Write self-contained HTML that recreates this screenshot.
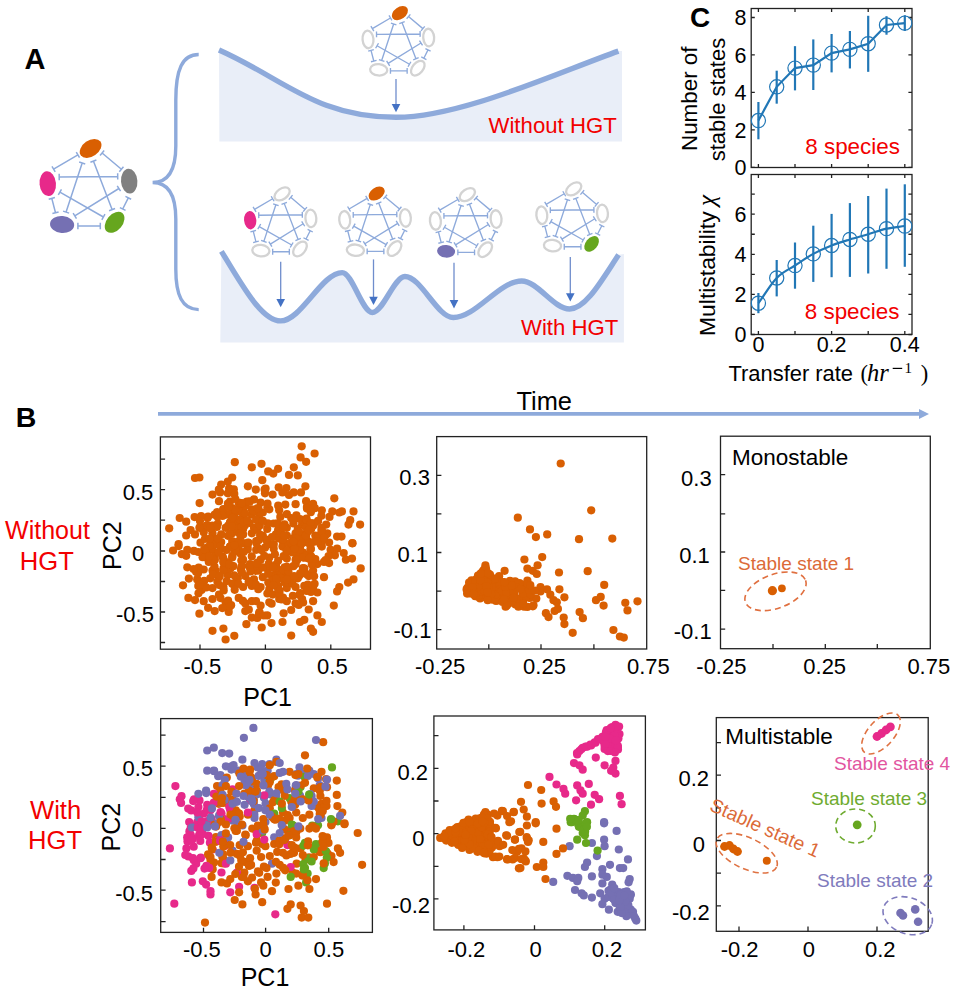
<!DOCTYPE html>
<html><head><meta charset="utf-8"><style>
html,body{margin:0;padding:0;background:#fff;width:965px;height:1002px;overflow:hidden}
svg{display:block;font-family:"Liberation Sans", sans-serif}
</style></head><body>
<svg width="965" height="1002" viewBox="0 0 965 1002">
<text x="24.5" y="69.0" font-size="29" text-anchor="start" fill="#000" font-weight="bold" >A</text>
<text x="15.8" y="427.0" font-size="28.5" text-anchor="start" fill="#000" font-weight="bold" >B</text>
<text x="690.0" y="27.0" font-size="28" text-anchor="start" fill="#000" font-weight="bold" >C</text>
<g><path d="M77.90,154.90L53.60,169.20M76.28,152.14L79.52,157.66M51.98,166.44L55.22,171.96" stroke="#8eaadb" stroke-width="1.5" fill="none"/><path d="M102.10,153.00L121.40,169.20M100.04,155.45L104.16,150.55M119.34,171.65L123.46,166.75" stroke="#8eaadb" stroke-width="1.5" fill="none"/><path d="M128.30,197.80L122.70,209.00M125.44,196.37L131.16,199.23M119.84,207.57L125.56,210.43" stroke="#8eaadb" stroke-width="1.5" fill="none"/><path d="M100.30,226.00L77.90,226.00M100.30,222.80L100.30,229.20M77.90,222.80L77.90,229.20" stroke="#8eaadb" stroke-width="1.5" fill="none"/><path d="M55.50,212.70L51.80,198.40M58.60,211.90L52.40,213.50M54.90,197.60L48.70,199.20" stroke="#8eaadb" stroke-width="1.5" fill="none"/><path d="M59.20,177.00L117.70,176.40M59.23,180.20L59.17,173.80M117.73,179.60L117.67,173.20" stroke="#8eaadb" stroke-width="1.5" fill="none"/><path d="M82.20,163.00L66.10,212.10M79.16,162.00L85.24,164.00M63.06,211.10L69.14,213.10" stroke="#8eaadb" stroke-width="1.5" fill="none"/><path d="M93.40,161.10L112.10,209.60M90.41,162.25L96.39,159.95M109.11,210.75L115.09,208.45" stroke="#8eaadb" stroke-width="1.5" fill="none"/><path d="M118.90,188.50L74.80,215.80M117.22,185.78L120.58,191.22M73.12,213.08L76.48,218.52" stroke="#8eaadb" stroke-width="1.5" fill="none"/><path d="M59.90,192.20L103.40,217.00M58.32,194.98L61.48,189.42M101.82,219.78L104.98,214.22" stroke="#8eaadb" stroke-width="1.5" fill="none"/><ellipse cx="0" cy="0" rx="12.00" ry="8.00" fill="#d95f02" transform="translate(90.60,148.40) rotate(-35)"/><ellipse cx="0" cy="0" rx="8.20" ry="12.40" fill="#e7298a" transform="translate(47.76,183.70) rotate(-5)"/><ellipse cx="0" cy="0" rx="8.20" ry="12.40" fill="#808080" transform="translate(129.20,181.20) rotate(-4)"/><ellipse cx="0" cy="0" rx="12.10" ry="8.50" fill="#7570b3" transform="translate(62.10,224.50) rotate(5)"/><ellipse cx="0" cy="0" rx="12.00" ry="8.00" fill="#66a61e" transform="translate(114.60,222.30) rotate(-50)"/></g>
<path d="M198.7,54.5 C182,54.5 175.8,70 175.8,100 L175.8,146 C175.8,170 168,182.5 152.6,182.5 C168,182.5 175.8,195 175.8,219 L175.8,269 C175.8,295 182,309.6 198.7,309.6" stroke="#8eaadb" stroke-width="3.4" fill="none"/>
<path d="M219,50 C284,78.8 315.6,117.3 396,117.3 C460.8,117.3 555.3,73.5 618.4,51.1L622,51 L622,141.5 L219.4,141.5 Z" fill="#e9eef8"/>
<path d="M219,50 C284,78.8 315.6,117.3 396,117.3 C460.8,117.3 555.3,73.5 618.4,51.1" stroke="#8eaadb" stroke-width="5.4" fill="none" stroke-linecap="butt"/>
<path d="M221.40,251.40C241.17,283.03 260.93,320.90 280.70,320.90C301.20,320.90 321.70,272.60 342.20,272.60C352.23,272.60 362.27,312.50 372.30,312.50C383.17,312.50 394.03,276.50 404.90,276.50C421.03,276.50 437.17,317.50 453.30,317.50C476.10,317.50 498.90,281.00 521.70,281.00C537.67,281.00 553.63,309.00 569.60,309.00C585.93,309.00 602.27,279.30 618.60,254.80L623.9,254 L623.9,342.6 L220.3,342.6 Z" fill="#e9eef8"/>
<path d="M221.40,251.40C241.17,283.03 260.93,320.90 280.70,320.90C301.20,320.90 321.70,272.60 342.20,272.60C352.23,272.60 362.27,312.50 372.30,312.50C383.17,312.50 394.03,276.50 404.90,276.50C421.03,276.50 437.17,317.50 453.30,317.50C476.10,317.50 498.90,281.00 521.70,281.00C537.67,281.00 553.63,309.00 569.60,309.00C585.93,309.00 602.27,279.30 618.60,254.80" stroke="#8eaadb" stroke-width="5.4" fill="none"/>
<path d="M396,79L396,105.0" stroke="#6f8dcc" stroke-width="1.3"/>
<path d="M391.7,104.0L400.3,104.0L396,112.3Z" fill="#4472c4"/>
<path d="M280.7,261.7L280.7,300.0" stroke="#6f8dcc" stroke-width="1.3"/>
<path d="M276.4,299.0L285.0,299.0L280.7,307.3Z" fill="#4472c4"/>
<path d="M373.5,259.4L373.5,297.7" stroke="#6f8dcc" stroke-width="1.3"/>
<path d="M369.2,296.7L377.8,296.7L373.5,305Z" fill="#4472c4"/>
<path d="M454,262.8L454,301.09999999999997" stroke="#6f8dcc" stroke-width="1.3"/>
<path d="M449.7,300.09999999999997L458.3,300.09999999999997L454,308.4Z" fill="#4472c4"/>
<path d="M570.3,257L570.3,294.3" stroke="#6f8dcc" stroke-width="1.3"/>
<path d="M566.0,293.3L574.5999999999999,293.3L570.3,301.6Z" fill="#4472c4"/>
<text x="488.5" y="132.7" font-size="22.2" text-anchor="start" fill="#f20000" font-weight="normal" >Without HGT</text>
<text x="521.0" y="335.3" font-size="22.2" text-anchor="start" fill="#f20000" font-weight="normal" >With HGT</text>
<g><path d="M390.46,17.96L372.36,28.61M388.99,15.46L391.93,20.46M370.89,26.11L373.83,31.11" stroke="#8eaadb" stroke-width="1.35" fill="none"/><path d="M408.49,16.55L422.87,28.61M406.62,18.77L410.35,14.32M421.00,30.84L424.73,26.39" stroke="#8eaadb" stroke-width="1.35" fill="none"/><path d="M428.01,49.92L423.84,58.27M425.41,48.62L430.60,51.22M421.24,56.97L426.43,59.56" stroke="#8eaadb" stroke-width="1.35" fill="none"/><path d="M407.15,70.93L390.46,70.93M407.15,68.03L407.15,73.83M390.46,68.03L390.46,73.83" stroke="#8eaadb" stroke-width="1.35" fill="none"/><path d="M373.77,61.02L371.02,50.37M376.58,60.30L370.96,61.75M373.82,49.64L368.21,51.09" stroke="#8eaadb" stroke-width="1.35" fill="none"/><path d="M376.53,34.42L420.11,33.98M376.56,37.32L376.50,31.53M420.14,36.88L420.08,31.08" stroke="#8eaadb" stroke-width="1.35" fill="none"/><path d="M393.66,24.00L381.67,60.57M390.91,23.09L396.42,24.90M378.91,59.67L384.42,61.48" stroke="#8eaadb" stroke-width="1.35" fill="none"/><path d="M402.01,22.58L415.94,58.71M399.30,23.62L404.71,21.54M413.23,59.76L418.65,57.67" stroke="#8eaadb" stroke-width="1.35" fill="none"/><path d="M421.01,42.99L388.15,63.33M419.48,40.53L422.53,45.46M386.62,60.87L389.68,65.80" stroke="#8eaadb" stroke-width="1.35" fill="none"/><path d="M377.05,45.75L409.46,64.22M375.61,48.27L378.49,43.23M408.02,66.74L410.89,61.71" stroke="#8eaadb" stroke-width="1.35" fill="none"/><ellipse cx="0" cy="0" rx="8.94" ry="5.96" fill="#d95f02" transform="translate(399.92,13.12) rotate(-35)"/><ellipse cx="0" cy="0" rx="5.45" ry="8.83" fill="#fff" stroke="#d3d3d3" stroke-width="2.3" transform="translate(368.01,39.42) rotate(-5)"/><ellipse cx="0" cy="0" rx="5.45" ry="8.83" fill="#fff" stroke="#d3d3d3" stroke-width="2.3" transform="translate(428.68,37.55) rotate(-4)"/><ellipse cx="0" cy="0" rx="8.59" ry="5.69" fill="#fff" stroke="#d3d3d3" stroke-width="2.3" transform="translate(378.69,69.81) rotate(5)"/><ellipse cx="0" cy="0" rx="8.51" ry="5.29" fill="#fff" stroke="#d3d3d3" stroke-width="2.3" transform="translate(417.80,68.17) rotate(-50)"/></g>
<g><path d="M272.66,198.76L254.56,209.41M271.19,196.26L274.13,201.26M253.09,206.91L256.03,211.91" stroke="#8eaadb" stroke-width="1.35" fill="none"/><path d="M290.69,197.34L305.07,209.41M288.82,199.57L292.55,195.12M303.20,211.64L306.93,207.19" stroke="#8eaadb" stroke-width="1.35" fill="none"/><path d="M310.21,230.72L306.04,239.06M307.61,229.42L312.80,232.02M303.44,237.77L308.63,240.36" stroke="#8eaadb" stroke-width="1.35" fill="none"/><path d="M289.35,251.73L272.66,251.73M289.35,248.83L289.35,254.63M272.66,248.83L272.66,254.63" stroke="#8eaadb" stroke-width="1.35" fill="none"/><path d="M255.97,241.82L253.22,231.17M258.78,241.10L253.16,242.55M256.02,230.44L250.41,231.89" stroke="#8eaadb" stroke-width="1.35" fill="none"/><path d="M258.73,215.22L302.31,214.78M258.76,218.12L258.70,212.33M302.34,217.68L302.28,211.88" stroke="#8eaadb" stroke-width="1.35" fill="none"/><path d="M275.86,204.80L263.87,241.37M273.11,203.89L278.62,205.70M261.11,240.47L266.62,242.28" stroke="#8eaadb" stroke-width="1.35" fill="none"/><path d="M284.21,203.38L298.14,239.51M281.50,204.42L286.91,202.34M295.43,240.56L300.85,238.47" stroke="#8eaadb" stroke-width="1.35" fill="none"/><path d="M303.21,223.79L270.35,244.13M301.68,221.33L304.73,226.26M268.82,241.67L271.88,246.60" stroke="#8eaadb" stroke-width="1.35" fill="none"/><path d="M259.25,226.55L291.66,245.03M257.81,229.07L260.69,224.03M290.22,247.54L293.09,242.51" stroke="#8eaadb" stroke-width="1.35" fill="none"/><ellipse cx="0" cy="0" rx="8.51" ry="5.29" fill="#fff" stroke="#d3d3d3" stroke-width="2.3" transform="translate(282.12,193.92) rotate(-35)"/><ellipse cx="0" cy="0" rx="6.11" ry="9.24" fill="#e7298a" transform="translate(250.21,220.22) rotate(-5)"/><ellipse cx="0" cy="0" rx="5.45" ry="8.83" fill="#fff" stroke="#d3d3d3" stroke-width="2.3" transform="translate(310.88,218.35) rotate(-4)"/><ellipse cx="0" cy="0" rx="8.59" ry="5.69" fill="#fff" stroke="#d3d3d3" stroke-width="2.3" transform="translate(260.89,250.61) rotate(5)"/><ellipse cx="0" cy="0" rx="8.51" ry="5.29" fill="#fff" stroke="#d3d3d3" stroke-width="2.3" transform="translate(300.00,248.97) rotate(-50)"/></g>
<g><path d="M367.16,198.36L349.06,209.01M365.69,195.86L368.63,200.86M347.59,206.51L350.53,211.51" stroke="#8eaadb" stroke-width="1.35" fill="none"/><path d="M385.19,196.94L399.57,209.01M383.32,199.17L387.05,194.72M397.70,211.24L401.43,206.79" stroke="#8eaadb" stroke-width="1.35" fill="none"/><path d="M404.71,230.32L400.54,238.66M402.11,229.02L407.30,231.62M397.94,237.37L403.13,239.96" stroke="#8eaadb" stroke-width="1.35" fill="none"/><path d="M383.85,251.33L367.16,251.33M383.85,248.43L383.85,254.23M367.16,248.43L367.16,254.23" stroke="#8eaadb" stroke-width="1.35" fill="none"/><path d="M350.47,241.42L347.72,230.77M353.28,240.70L347.66,242.15M350.52,230.04L344.91,231.49" stroke="#8eaadb" stroke-width="1.35" fill="none"/><path d="M353.23,214.82L396.81,214.38M353.26,217.72L353.20,211.93M396.84,217.28L396.78,211.48" stroke="#8eaadb" stroke-width="1.35" fill="none"/><path d="M370.36,204.40L358.37,240.97M367.61,203.49L373.12,205.30M355.61,240.07L361.12,241.88" stroke="#8eaadb" stroke-width="1.35" fill="none"/><path d="M378.71,202.98L392.64,239.11M376.00,204.02L381.41,201.94M389.93,240.16L395.35,238.07" stroke="#8eaadb" stroke-width="1.35" fill="none"/><path d="M397.71,223.39L364.85,243.73M396.18,220.93L399.23,225.86M363.32,241.27L366.38,246.20" stroke="#8eaadb" stroke-width="1.35" fill="none"/><path d="M353.75,226.15L386.16,244.62M352.31,228.67L355.19,223.63M384.72,247.14L387.59,242.11" stroke="#8eaadb" stroke-width="1.35" fill="none"/><ellipse cx="0" cy="0" rx="8.94" ry="5.96" fill="#d95f02" transform="translate(376.62,193.52) rotate(-35)"/><ellipse cx="0" cy="0" rx="5.45" ry="8.83" fill="#fff" stroke="#d3d3d3" stroke-width="2.3" transform="translate(344.71,219.82) rotate(-5)"/><ellipse cx="0" cy="0" rx="5.45" ry="8.83" fill="#fff" stroke="#d3d3d3" stroke-width="2.3" transform="translate(405.38,217.95) rotate(-4)"/><ellipse cx="0" cy="0" rx="8.59" ry="5.69" fill="#fff" stroke="#d3d3d3" stroke-width="2.3" transform="translate(355.39,250.21) rotate(5)"/><ellipse cx="0" cy="0" rx="8.51" ry="5.29" fill="#fff" stroke="#d3d3d3" stroke-width="2.3" transform="translate(394.50,248.57) rotate(-50)"/></g>
<g><path d="M457.86,199.46L439.76,210.11M456.39,196.96L459.33,201.96M438.29,207.61L441.23,212.61" stroke="#8eaadb" stroke-width="1.35" fill="none"/><path d="M475.89,198.04L490.27,210.11M474.02,200.27L477.75,195.82M488.40,212.34L492.13,207.89" stroke="#8eaadb" stroke-width="1.35" fill="none"/><path d="M495.41,231.42L491.24,239.76M492.81,230.12L498.00,232.72M488.64,238.47L493.83,241.06" stroke="#8eaadb" stroke-width="1.35" fill="none"/><path d="M474.55,252.43L457.86,252.43M474.55,249.53L474.55,255.33M457.86,249.53L457.86,255.33" stroke="#8eaadb" stroke-width="1.35" fill="none"/><path d="M441.17,242.52L438.42,231.87M443.98,241.80L438.36,243.25M441.22,231.14L435.61,232.59" stroke="#8eaadb" stroke-width="1.35" fill="none"/><path d="M443.93,215.92L487.51,215.48M443.96,218.82L443.90,213.03M487.54,218.38L487.48,212.58" stroke="#8eaadb" stroke-width="1.35" fill="none"/><path d="M461.06,205.50L449.07,242.07M458.31,204.59L463.82,206.40M446.31,241.17L451.82,242.98" stroke="#8eaadb" stroke-width="1.35" fill="none"/><path d="M469.41,204.08L483.34,240.21M466.70,205.12L472.11,203.04M480.63,241.26L486.05,239.17" stroke="#8eaadb" stroke-width="1.35" fill="none"/><path d="M488.41,224.49L455.55,244.83M486.88,222.03L489.93,226.96M454.02,242.37L457.08,247.30" stroke="#8eaadb" stroke-width="1.35" fill="none"/><path d="M444.45,227.25L476.86,245.72M443.01,229.77L445.89,224.73M475.42,248.24L478.29,243.21" stroke="#8eaadb" stroke-width="1.35" fill="none"/><ellipse cx="0" cy="0" rx="8.51" ry="5.29" fill="#fff" stroke="#d3d3d3" stroke-width="2.3" transform="translate(467.32,194.62) rotate(-35)"/><ellipse cx="0" cy="0" rx="5.45" ry="8.83" fill="#fff" stroke="#d3d3d3" stroke-width="2.3" transform="translate(435.41,220.92) rotate(-5)"/><ellipse cx="0" cy="0" rx="5.45" ry="8.83" fill="#fff" stroke="#d3d3d3" stroke-width="2.3" transform="translate(496.08,219.05) rotate(-4)"/><ellipse cx="0" cy="0" rx="9.01" ry="6.33" fill="#7570b3" transform="translate(446.09,251.31) rotate(5)"/><ellipse cx="0" cy="0" rx="8.51" ry="5.29" fill="#fff" stroke="#d3d3d3" stroke-width="2.3" transform="translate(485.20,249.67) rotate(-50)"/></g>
<g><path d="M564.26,193.76L546.16,204.41M562.79,191.26L565.73,196.26M544.69,201.91L547.63,206.91" stroke="#8eaadb" stroke-width="1.35" fill="none"/><path d="M582.29,192.34L596.67,204.41M580.42,194.57L584.15,190.12M594.80,206.64L598.53,202.19" stroke="#8eaadb" stroke-width="1.35" fill="none"/><path d="M601.81,225.72L597.64,234.06M599.21,224.42L604.40,227.02M595.04,232.77L600.23,235.36" stroke="#8eaadb" stroke-width="1.35" fill="none"/><path d="M580.95,246.73L564.26,246.73M580.95,243.83L580.95,249.63M564.26,243.83L564.26,249.63" stroke="#8eaadb" stroke-width="1.35" fill="none"/><path d="M547.57,236.82L544.82,226.17M550.38,236.10L544.76,237.55M547.62,225.44L542.01,226.89" stroke="#8eaadb" stroke-width="1.35" fill="none"/><path d="M550.33,210.22L593.91,209.78M550.36,213.12L550.30,207.33M593.94,212.68L593.88,206.88" stroke="#8eaadb" stroke-width="1.35" fill="none"/><path d="M567.46,199.80L555.47,236.37M564.71,198.89L570.22,200.70M552.71,235.47L558.22,237.28" stroke="#8eaadb" stroke-width="1.35" fill="none"/><path d="M575.81,198.38L589.74,234.51M573.10,199.42L578.51,197.34M587.03,235.56L592.45,233.47" stroke="#8eaadb" stroke-width="1.35" fill="none"/><path d="M594.81,218.79L561.95,239.13M593.28,216.33L596.33,221.26M560.42,236.67L563.48,241.60" stroke="#8eaadb" stroke-width="1.35" fill="none"/><path d="M550.85,221.55L583.26,240.03M549.41,224.07L552.29,219.03M581.82,242.54L584.69,237.51" stroke="#8eaadb" stroke-width="1.35" fill="none"/><ellipse cx="0" cy="0" rx="8.51" ry="5.29" fill="#fff" stroke="#d3d3d3" stroke-width="2.3" transform="translate(573.72,188.92) rotate(-35)"/><ellipse cx="0" cy="0" rx="5.45" ry="8.83" fill="#fff" stroke="#d3d3d3" stroke-width="2.3" transform="translate(541.81,215.22) rotate(-5)"/><ellipse cx="0" cy="0" rx="5.45" ry="8.83" fill="#fff" stroke="#d3d3d3" stroke-width="2.3" transform="translate(602.48,213.35) rotate(-4)"/><ellipse cx="0" cy="0" rx="8.59" ry="5.69" fill="#fff" stroke="#d3d3d3" stroke-width="2.3" transform="translate(552.49,245.61) rotate(5)"/><ellipse cx="0" cy="0" rx="8.94" ry="5.96" fill="#66a61e" transform="translate(591.60,243.97) rotate(-50)"/></g>
<path d="M158,413.9L920,413.9" stroke="#8eaadb" stroke-width="3.7"/>
<path d="M919,408.9L929,413.9L919,418.9Z" fill="#8eaadb"/>
<text x="516.5" y="409.9" font-size="25.4" text-anchor="start" fill="#000" font-weight="normal" >Time</text>
<rect x="751.20" y="8.50" width="160.80" height="159.00" fill="none" stroke="#222" stroke-width="1.3"/>
<path d="M758.40,167.5L758.40,163.9M795.00,167.5L795.00,163.9M831.60,167.5L831.60,163.9M868.20,167.5L868.20,163.9M904.80,167.5L904.80,163.9" stroke="#222" stroke-width="1.3"/>
<path d="M758.40,8.5L758.40,12.1M795.00,8.5L795.00,12.1M831.60,8.5L831.60,12.1M868.20,8.5L868.20,12.1M904.80,8.5L904.80,12.1" stroke="#222" stroke-width="1.3"/>
<path d="M751.2,167.40L754.8000000000001,167.40M751.2,129.92L754.8000000000001,129.92M751.2,92.44L754.8000000000001,92.44M751.2,54.96L754.8000000000001,54.96M751.2,17.48L754.8000000000001,17.48" stroke="#222" stroke-width="1.3"/>
<path d="M912.0,167.40L908.4,167.40M912.0,129.92L908.4,129.92M912.0,92.44L908.4,92.44M912.0,54.96L908.4,54.96M912.0,17.48L908.4,17.48" stroke="#222" stroke-width="1.3"/>
<text x="746.5" y="175.0" font-size="21.5" text-anchor="end" fill="#000" font-weight="normal" >0</text>
<text x="746.5" y="137.5" font-size="21.5" text-anchor="end" fill="#000" font-weight="normal" >2</text>
<text x="746.5" y="100.0" font-size="21.5" text-anchor="end" fill="#000" font-weight="normal" >4</text>
<text x="746.5" y="62.6" font-size="21.5" text-anchor="end" fill="#000" font-weight="normal" >6</text>
<text x="746.5" y="25.1" font-size="21.5" text-anchor="end" fill="#000" font-weight="normal" >8</text>
<path d="M758.40,120.55 L776.70,86.82 L795.00,68.08 L813.30,65.08 L831.60,53.09 L849.90,49.34 L868.20,43.72 L886.50,24.98 L904.80,23.10" stroke="#2177b6" stroke-width="2.2" fill="none"/>
<path d="M758.40,139.29L758.40,102.00" stroke="#2177b6" stroke-width="2.2"/>
<path d="M776.70,103.68L776.70,70.70" stroke="#2177b6" stroke-width="2.2"/>
<path d="M795.00,90.38L795.00,46.15" stroke="#2177b6" stroke-width="2.2"/>
<path d="M813.30,90.00L813.30,39.41" stroke="#2177b6" stroke-width="2.2"/>
<path d="M831.60,72.39L831.60,33.97" stroke="#2177b6" stroke-width="2.2"/>
<path d="M849.90,68.45L849.90,30.97" stroke="#2177b6" stroke-width="2.2"/>
<path d="M868.20,71.83L868.20,15.79" stroke="#2177b6" stroke-width="2.2"/>
<path d="M886.50,34.72L886.50,16.17" stroke="#2177b6" stroke-width="2.2"/>
<path d="M904.80,30.97L904.80,15.23" stroke="#2177b6" stroke-width="2.2"/>
<circle cx="758.40" cy="120.55" r="7.1" fill="none" stroke="#2177b6" stroke-width="1.2"/>
<circle cx="776.70" cy="86.82" r="7.1" fill="none" stroke="#2177b6" stroke-width="1.2"/>
<circle cx="795.00" cy="68.08" r="7.1" fill="none" stroke="#2177b6" stroke-width="1.2"/>
<circle cx="813.30" cy="65.08" r="7.1" fill="none" stroke="#2177b6" stroke-width="1.2"/>
<circle cx="831.60" cy="53.09" r="7.1" fill="none" stroke="#2177b6" stroke-width="1.2"/>
<circle cx="849.90" cy="49.34" r="7.1" fill="none" stroke="#2177b6" stroke-width="1.2"/>
<circle cx="868.20" cy="43.72" r="7.1" fill="none" stroke="#2177b6" stroke-width="1.2"/>
<circle cx="886.50" cy="24.98" r="7.1" fill="none" stroke="#2177b6" stroke-width="1.2"/>
<circle cx="904.80" cy="23.10" r="7.1" fill="none" stroke="#2177b6" stroke-width="1.2"/>
<text x="805.3" y="154.3" font-size="22.4" text-anchor="start" fill="#f20000" font-weight="normal" >8 species</text>
<text x="697.0" y="151.0" font-size="22.4" text-anchor="start" fill="#000" font-weight="normal" transform="rotate(-90 697 151)">Number of</text>
<text x="725.5" y="161.3" font-size="22.0" text-anchor="start" fill="#000" font-weight="normal" transform="rotate(-90 725.5 161.3)">stable states</text>
<rect x="751.20" y="174.50" width="160.80" height="160.00" fill="none" stroke="#222" stroke-width="1.3"/>
<path d="M758.40,334.5L758.40,330.9M795.00,334.5L795.00,330.9M831.60,334.5L831.60,330.9M868.20,334.5L868.20,330.9M904.80,334.5L904.80,330.9" stroke="#222" stroke-width="1.3"/>
<path d="M758.40,174.5L758.40,178.1M795.00,174.5L795.00,178.1M831.60,174.5L831.60,178.1M868.20,174.5L868.20,178.1M904.80,174.5L904.80,178.1" stroke="#222" stroke-width="1.3"/>
<path d="M751.2,334.50L754.8000000000001,334.50M751.2,314.45L754.8000000000001,314.45M751.2,294.40L754.8000000000001,294.40M751.2,274.35L754.8000000000001,274.35M751.2,254.30L754.8000000000001,254.30M751.2,234.25L754.8000000000001,234.25M751.2,214.20L754.8000000000001,214.20M751.2,194.15L754.8000000000001,194.15" stroke="#222" stroke-width="1.3"/>
<path d="M912.0,334.50L908.4,334.50M912.0,314.45L908.4,314.45M912.0,294.40L908.4,294.40M912.0,274.35L908.4,274.35M912.0,254.30L908.4,254.30M912.0,234.25L908.4,234.25M912.0,214.20L908.4,214.20M912.0,194.15L908.4,194.15" stroke="#222" stroke-width="1.3"/>
<text x="746.5" y="342.1" font-size="21.5" text-anchor="end" fill="#000" font-weight="normal" >0</text>
<text x="746.5" y="302.0" font-size="21.5" text-anchor="end" fill="#000" font-weight="normal" >2</text>
<text x="746.5" y="261.9" font-size="21.5" text-anchor="end" fill="#000" font-weight="normal" >4</text>
<text x="746.5" y="221.8" font-size="21.5" text-anchor="end" fill="#000" font-weight="normal" >6</text>
<path d="M758.40,303.22C764.50,294.80 770.60,284.24 776.70,277.96C782.80,271.68 788.90,269.54 795.00,265.53C801.10,261.52 807.20,257.24 813.30,253.90C819.40,250.56 825.50,247.88 831.60,245.48C837.70,243.07 843.80,241.33 849.90,239.46C856.00,237.59 862.10,236.05 868.20,234.25C874.30,232.45 880.40,230.01 886.50,228.64C892.60,227.27 898.70,226.90 904.80,226.03" stroke="#2177b6" stroke-width="2.2" fill="none"/>
<path d="M758.40,293L758.40,313.2" stroke="#2177b6" stroke-width="2.2"/>
<path d="M776.70,260L776.70,296.4" stroke="#2177b6" stroke-width="2.2"/>
<path d="M795.00,242.5L795.00,288.7" stroke="#2177b6" stroke-width="2.2"/>
<path d="M813.30,225.7L813.30,281.9" stroke="#2177b6" stroke-width="2.2"/>
<path d="M831.60,213.9L831.60,277.2" stroke="#2177b6" stroke-width="2.2"/>
<path d="M849.90,203.1L849.90,276.9" stroke="#2177b6" stroke-width="2.2"/>
<path d="M868.20,196L868.20,273.5" stroke="#2177b6" stroke-width="2.2"/>
<path d="M886.50,188.6L886.50,268.8" stroke="#2177b6" stroke-width="2.2"/>
<path d="M904.80,184.3L904.80,266.8" stroke="#2177b6" stroke-width="2.2"/>
<circle cx="758.40" cy="303.22" r="7.1" fill="none" stroke="#2177b6" stroke-width="1.2"/>
<circle cx="776.70" cy="277.96" r="7.1" fill="none" stroke="#2177b6" stroke-width="1.2"/>
<circle cx="795.00" cy="265.53" r="7.1" fill="none" stroke="#2177b6" stroke-width="1.2"/>
<circle cx="813.30" cy="253.90" r="7.1" fill="none" stroke="#2177b6" stroke-width="1.2"/>
<circle cx="831.60" cy="245.48" r="7.1" fill="none" stroke="#2177b6" stroke-width="1.2"/>
<circle cx="849.90" cy="239.46" r="7.1" fill="none" stroke="#2177b6" stroke-width="1.2"/>
<circle cx="868.20" cy="234.25" r="7.1" fill="none" stroke="#2177b6" stroke-width="1.2"/>
<circle cx="886.50" cy="228.64" r="7.1" fill="none" stroke="#2177b6" stroke-width="1.2"/>
<circle cx="904.80" cy="226.03" r="7.1" fill="none" stroke="#2177b6" stroke-width="1.2"/>
<text x="804.8" y="319.0" font-size="22.4" text-anchor="start" fill="#f20000" font-weight="normal" >8 species</text>
<text x="758.4" y="352.0" font-size="21.5" text-anchor="middle" fill="#000" font-weight="normal" >0</text>
<text x="831.6" y="352.0" font-size="21.5" text-anchor="middle" fill="#000" font-weight="normal" >0.2</text>
<text x="904.8" y="352.0" font-size="21.5" text-anchor="middle" fill="#000" font-weight="normal" >0.4</text>
<text x="728.5" y="380.6" font-size="21.9">Transfer rate</text>
<text x="860.5" y="381" font-size="22.5" font-family="Liberation Serif">(</text>
<text x="867" y="380.6" font-size="24.5" font-family="Liberation Serif" font-style="italic">hr</text>
<path d="M892.7,368.4L902.2,368.4" stroke="#000" stroke-width="1.2"/>
<text x="904.5" y="372.8" font-size="15" font-family="Liberation Serif">1</text>
<text x="920.8" y="381" font-size="22.5" font-family="Liberation Serif">)</text>
<text x="714.5" y="336" font-size="22.9" transform="rotate(-90 714.5 336)">Multistability <tspan font-family="Liberation Serif" font-style="italic" font-size="25" dx="-1">χ</tspan></text>
<rect x="160.40" y="436.90" width="210.10" height="212.30" fill="none" stroke="#222" stroke-width="1.3"/>
<path d="M200.00,649.2L200.00,644.5M265.40,649.2L265.40,644.5M330.80,649.2L330.80,644.5" stroke="#222" stroke-width="1.3"/>
<path d="M160.4,459.10L165.1,459.10M160.4,489.70L165.1,489.70M160.4,520.20L165.1,520.20M160.4,551.00L165.1,551.00M160.4,581.50L165.1,581.50M160.4,612.00L165.1,612.00M160.4,642.50L165.1,642.50" stroke="#222" stroke-width="1.3"/>
<text x="202.4" y="674.0" font-size="22" text-anchor="middle" fill="#000" font-weight="normal" >-0.5</text>
<text x="266.6" y="674.0" font-size="22" text-anchor="middle" fill="#000" font-weight="normal" >0</text>
<text x="332.4" y="674.0" font-size="22" text-anchor="middle" fill="#000" font-weight="normal" >0.5</text>
<text x="153.3" y="500.0" font-size="22" text-anchor="end" fill="#000" font-weight="normal" >0.5</text>
<text x="144.3" y="560.8" font-size="22" text-anchor="end" fill="#000" font-weight="normal" >0</text>
<text x="153.9" y="621.6" font-size="22" text-anchor="end" fill="#000" font-weight="normal" >-0.5</text>
<text x="267.6" y="706.0" font-size="25" text-anchor="middle" fill="#000" font-weight="normal" >PC1</text>
<text x="121.0" y="570.0" font-size="25" text-anchor="start" fill="#000" font-weight="normal" transform="rotate(-90 121 570)">PC2</text>
<text x="47.5" y="539.0" font-size="25" text-anchor="middle" fill="#f20000" font-weight="normal" >Without</text>
<text x="46.8" y="569.6" font-size="25.6" text-anchor="middle" fill="#f20000" font-weight="normal" >HGT</text>
<rect x="436.70" y="436.60" width="210.00" height="212.40" fill="none" stroke="#222" stroke-width="1.3"/>
<path d="M488.80,649L488.80,644.3M541.00,649L541.00,644.3M593.90,649L593.90,644.3" stroke="#222" stroke-width="1.3"/>
<path d="M436.7,475.40L441.4,475.40M436.7,513.80L441.4,513.80M436.7,552.50L441.4,552.50M436.7,591.10L441.4,591.10M436.7,629.70L441.4,629.70" stroke="#222" stroke-width="1.3"/>
<text x="440.1" y="673.6" font-size="22" text-anchor="middle" fill="#000" font-weight="normal" >-0.25</text>
<text x="544.5" y="673.6" font-size="22" text-anchor="middle" fill="#000" font-weight="normal" >0.25</text>
<text x="648.4" y="673.6" font-size="22" text-anchor="middle" fill="#000" font-weight="normal" >0.75</text>
<text x="429.9" y="485.0" font-size="22" text-anchor="end" fill="#000" font-weight="normal" >0.3</text>
<text x="428.0" y="562.0" font-size="22" text-anchor="end" fill="#000" font-weight="normal" >0.1</text>
<text x="431.4" y="638.2" font-size="22" text-anchor="end" fill="#000" font-weight="normal" >-0.1</text>
<rect x="720.50" y="436.20" width="209.80" height="212.50" fill="none" stroke="#222" stroke-width="1.3"/>
<path d="M773.00,648.7L773.00,644.0M825.30,648.7L825.30,644.0M877.30,648.7L877.30,644.0" stroke="#222" stroke-width="1.3"/>
<path d="M720.5,474.60L725.2,474.60M720.5,513.90L725.2,513.90M720.5,552.00L725.2,552.00M720.5,590.40L725.2,590.40M720.5,629.10L725.2,629.10" stroke="#222" stroke-width="1.3"/>
<text x="721.4" y="674.0" font-size="22" text-anchor="middle" fill="#000" font-weight="normal" >-0.25</text>
<text x="824.7" y="674.0" font-size="22" text-anchor="middle" fill="#000" font-weight="normal" >0.25</text>
<text x="928.8" y="674.0" font-size="22" text-anchor="middle" fill="#000" font-weight="normal" >0.75</text>
<text x="711.7" y="485.6" font-size="22" text-anchor="end" fill="#000" font-weight="normal" >0.3</text>
<text x="709.8" y="562.8" font-size="22" text-anchor="end" fill="#000" font-weight="normal" >0.1</text>
<text x="711.7" y="638.6" font-size="22" text-anchor="end" fill="#000" font-weight="normal" >-0.1</text>
<text x="732.0" y="464.9" font-size="22.5" text-anchor="start" fill="#000" font-weight="normal" >Monostable</text>
<text x="738.0" y="570.0" font-size="19" text-anchor="start" fill="#dc6a38" font-weight="normal" >Stable state 1</text>
<ellipse cx="0" cy="0" rx="32" ry="17" fill="none" stroke="#e07040" stroke-width="1.6" stroke-dasharray="6,4" transform="translate(775.5,591.3) rotate(-20)"/>
<g fill="#d95f02"><circle cx="772.4" cy="590.7" r="4.6"/></g>
<g fill="#d95f02"><circle cx="781.9" cy="588.3" r="3.9"/></g>
<rect x="160.70" y="718.60" width="211.70" height="213.80" fill="none" stroke="#222" stroke-width="1.3"/>
<path d="M203.50,932.4L203.50,927.6999999999999M265.60,932.4L265.60,927.6999999999999M328.70,932.4L328.70,927.6999999999999" stroke="#222" stroke-width="1.3"/>
<path d="M160.9,735.10L165.6,735.10M160.9,766.20L165.6,766.20M160.9,797.30L165.6,797.30M160.9,828.40L165.6,828.40M160.9,859.50L165.6,859.50M160.9,890.20L165.6,890.20M160.9,921.60L165.6,921.60" stroke="#222" stroke-width="1.3"/>
<text x="201.9" y="956.5" font-size="22" text-anchor="middle" fill="#000" font-weight="normal" >-0.5</text>
<text x="265.6" y="956.5" font-size="22" text-anchor="middle" fill="#000" font-weight="normal" >0</text>
<text x="328.9" y="956.5" font-size="22" text-anchor="middle" fill="#000" font-weight="normal" >0.5</text>
<text x="153.1" y="776.2" font-size="22" text-anchor="end" fill="#000" font-weight="normal" >0.5</text>
<text x="143.7" y="836.6" font-size="22" text-anchor="end" fill="#000" font-weight="normal" >0</text>
<text x="153.1" y="900.5" font-size="22" text-anchor="end" fill="#000" font-weight="normal" >-0.5</text>
<text x="265.0" y="986.0" font-size="25" text-anchor="middle" fill="#000" font-weight="normal" >PC1</text>
<text x="119.5" y="851.5" font-size="25" text-anchor="start" fill="#000" font-weight="normal" transform="rotate(-90 119.5 851.5)">PC2</text>
<text x="55.6" y="819.0" font-size="25.6" text-anchor="middle" fill="#f20000" font-weight="normal" >With</text>
<text x="55.0" y="848.8" font-size="25.6" text-anchor="middle" fill="#f20000" font-weight="normal" >HGT</text>
<rect x="433.90" y="716.00" width="211.50" height="213.90" fill="none" stroke="#222" stroke-width="1.3"/>
<path d="M463.90,929.9L463.90,925.1999999999999M534.50,929.9L534.50,925.1999999999999M604.70,929.9L604.70,925.1999999999999" stroke="#222" stroke-width="1.3"/>
<path d="M433.8,735.70L438.5,735.70M433.8,768.40L438.5,768.40M433.8,801.00L438.5,801.00M433.8,833.70L438.5,833.70M433.8,866.30L438.5,866.30M433.8,898.90L438.5,898.90" stroke="#222" stroke-width="1.3"/>
<text x="466.4" y="956.5" font-size="22" text-anchor="middle" fill="#000" font-weight="normal" >-0.2</text>
<text x="535.5" y="956.5" font-size="22" text-anchor="middle" fill="#000" font-weight="normal" >0</text>
<text x="607.0" y="956.5" font-size="22" text-anchor="middle" fill="#000" font-weight="normal" >0.2</text>
<text x="428.1" y="780.2" font-size="22" text-anchor="end" fill="#000" font-weight="normal" >0.2</text>
<text x="424.4" y="846.1" font-size="22" text-anchor="end" fill="#000" font-weight="normal" >0</text>
<text x="430.0" y="912.9" font-size="22" text-anchor="end" fill="#000" font-weight="normal" >-0.2</text>
<rect x="716.30" y="717.60" width="211.90" height="213.70" fill="none" stroke="#222" stroke-width="1.3"/>
<path d="M739.00,931.3L739.00,926.5999999999999M808.00,931.3L808.00,926.5999999999999M877.00,931.3L877.00,926.5999999999999" stroke="#222" stroke-width="1.3"/>
<path d="M716.3,742.60L721.0,742.60M716.3,775.20L721.0,775.20M716.3,807.90L721.0,807.90M716.3,840.50L721.0,840.50M716.3,873.10L721.0,873.10M716.3,905.80L721.0,905.80" stroke="#222" stroke-width="1.3"/>
<text x="739.6" y="956.5" font-size="22" text-anchor="middle" fill="#000" font-weight="normal" >-0.2</text>
<text x="808.8" y="956.5" font-size="22" text-anchor="middle" fill="#000" font-weight="normal" >0</text>
<text x="880.2" y="956.5" font-size="22" text-anchor="middle" fill="#000" font-weight="normal" >0.2</text>
<text x="709.0" y="785.5" font-size="22" text-anchor="end" fill="#000" font-weight="normal" >0.2</text>
<text x="705.0" y="851.8" font-size="22" text-anchor="end" fill="#000" font-weight="normal" >0</text>
<text x="709.8" y="919.7" font-size="22" text-anchor="end" fill="#000" font-weight="normal" >-0.2</text>
<text x="725.3" y="743.5" font-size="22.5" text-anchor="start" fill="#000" font-weight="normal" >Multistable</text>
<ellipse cx="0" cy="0" rx="25" ry="13" fill="none" stroke="#df7242" stroke-width="1.6" stroke-dasharray="6,4" transform="translate(881,733.5) rotate(-48)"/>
<g fill="#e7298a"><circle cx="877.0" cy="736.5" r="4.4"/><circle cx="881.5" cy="733.5" r="4.4"/><circle cx="886.0" cy="730.0" r="4.4"/><circle cx="890.4" cy="726.8" r="4.4"/></g>
<text x="834.0" y="769.6" font-size="19" text-anchor="start" fill="#e2559f" font-weight="normal" >Stable state 4</text>
<ellipse cx="0" cy="0" rx="19.8" ry="17" fill="none" stroke="#6fab30" stroke-width="1.6" stroke-dasharray="6,4" transform="translate(855.5,826) rotate(0)"/>
<g fill="#66a61e"><circle cx="857.2" cy="824.8" r="4.4"/></g>
<text x="811.0" y="805.2" font-size="19" text-anchor="start" fill="#6fab30" font-weight="normal" >Stable state 3</text>
<ellipse cx="0" cy="0" rx="33" ry="15.5" fill="none" stroke="#df7242" stroke-width="1.6" stroke-dasharray="6,4" transform="translate(746.7,853.2) rotate(25)"/>
<g fill="#d95f02"><circle cx="724.5" cy="846.5" r="4.4"/><circle cx="729.5" cy="845.5" r="4.4"/><circle cx="733.5" cy="849.0" r="4.4"/><circle cx="737.5" cy="851.5" r="4.4"/></g>
<g fill="#d95f02"><circle cx="766.8" cy="860.8" r="4.0"/></g>
<text x="708.5" y="810" font-size="19.3" fill="#dc6a38" transform="rotate(24 708.5 810)">Stable state 1</text>
<ellipse cx="0" cy="0" rx="25.5" ry="18" fill="none" stroke="#7f7bbd" stroke-width="1.6" stroke-dasharray="6,4" transform="translate(907.7,915.7) rotate(20)"/>
<g fill="#7570b3"><circle cx="900.5" cy="913.0" r="4.3"/><circle cx="903.0" cy="915.5" r="4.3"/><circle cx="915.2" cy="909.4" r="4.3"/><circle cx="918.1" cy="921.7" r="4.3"/></g>
<text x="817.0" y="886.5" font-size="19" text-anchor="start" fill="#7f7bbd" font-weight="normal" >Stable state 2</text>
<g fill="#d95f02"><circle cx="301.7" cy="446.3" r="4.1"/><circle cx="314.6" cy="453.5" r="4.1"/><circle cx="300.6" cy="457.4" r="4.1"/><circle cx="306.1" cy="461.8" r="4.1"/><circle cx="234.8" cy="462.2" r="4.1"/><circle cx="261.5" cy="463.8" r="4.1"/><circle cx="251.8" cy="467.3" r="4.1"/><circle cx="278.1" cy="468.8" r="4.1"/><circle cx="293.8" cy="467.3" r="4.1"/><circle cx="268.2" cy="471.4" r="4.1"/><circle cx="273.3" cy="473.6" r="4.1"/><circle cx="289.0" cy="474.9" r="4.1"/><circle cx="297.8" cy="475.4" r="4.1"/><circle cx="195.0" cy="478.0" r="4.1"/><circle cx="199.4" cy="477.5" r="4.1"/><circle cx="232.2" cy="477.5" r="4.1"/><circle cx="227.8" cy="481.5" r="4.1"/><circle cx="262.3" cy="480.2" r="4.1"/><circle cx="221.2" cy="484.5" r="4.1"/><circle cx="247.9" cy="486.3" r="4.1"/><circle cx="255.8" cy="489.6" r="4.1"/><circle cx="265.6" cy="488.5" r="4.1"/><circle cx="278.7" cy="487.4" r="4.1"/><circle cx="286.4" cy="488.0" r="4.1"/><circle cx="305.4" cy="486.3" r="4.1"/><circle cx="212.5" cy="494.6" r="4.1"/><circle cx="220.1" cy="492.4" r="4.1"/><circle cx="227.8" cy="493.3" r="4.1"/><circle cx="234.3" cy="493.9" r="4.1"/><circle cx="265.0" cy="493.3" r="4.1"/><circle cx="272.6" cy="494.6" r="4.1"/><circle cx="289.0" cy="495.0" r="4.1"/><circle cx="293.8" cy="492.4" r="4.1"/><circle cx="301.0" cy="492.4" r="4.1"/><circle cx="219.0" cy="501.2" r="4.1"/><circle cx="230.0" cy="501.6" r="4.1"/><circle cx="238.7" cy="502.7" r="4.1"/><circle cx="249.7" cy="501.6" r="4.1"/><circle cx="254.0" cy="499.4" r="4.1"/><circle cx="260.6" cy="502.7" r="4.1"/><circle cx="334.3" cy="498.3" r="4.1"/><circle cx="295.6" cy="504.2" r="4.1"/><circle cx="306.1" cy="501.2" r="4.1"/><circle cx="313.1" cy="503.8" r="4.1"/><circle cx="223.4" cy="509.9" r="4.1"/><circle cx="232.2" cy="508.2" r="4.1"/><circle cx="243.1" cy="508.2" r="4.1"/><circle cx="251.8" cy="509.3" r="4.1"/><circle cx="269.3" cy="509.3" r="4.1"/><circle cx="279.2" cy="510.3" r="4.1"/><circle cx="306.9" cy="507.1" r="4.1"/><circle cx="314.8" cy="508.2" r="4.1"/><circle cx="321.8" cy="510.3" r="4.1"/><circle cx="332.3" cy="511.4" r="4.1"/><circle cx="341.9" cy="511.4" r="4.1"/><circle cx="353.5" cy="511.4" r="4.1"/><circle cx="179.7" cy="518.0" r="4.1"/><circle cx="208.1" cy="516.5" r="4.1"/><circle cx="214.7" cy="514.7" r="4.1"/><circle cx="225.6" cy="514.7" r="4.1"/><circle cx="234.3" cy="512.5" r="4.1"/><circle cx="243.1" cy="514.7" r="4.1"/><circle cx="251.8" cy="514.7" r="4.1"/><circle cx="262.8" cy="512.5" r="4.1"/><circle cx="280.3" cy="516.9" r="4.1"/><circle cx="291.2" cy="518.0" r="4.1"/><circle cx="300.0" cy="519.1" r="4.1"/><circle cx="306.5" cy="518.7" r="4.1"/><circle cx="321.4" cy="515.8" r="4.1"/><circle cx="329.5" cy="516.9" r="4.1"/><circle cx="339.3" cy="512.5" r="4.1"/><circle cx="186.2" cy="521.7" r="4.1"/><circle cx="217.9" cy="523.5" r="4.1"/><circle cx="230.0" cy="522.4" r="4.1"/><circle cx="238.7" cy="522.4" r="4.1"/><circle cx="249.7" cy="523.0" r="4.1"/><circle cx="257.3" cy="520.2" r="4.1"/><circle cx="273.7" cy="523.5" r="4.1"/><circle cx="281.4" cy="525.7" r="4.1"/><circle cx="293.4" cy="523.5" r="4.1"/><circle cx="302.1" cy="524.6" r="4.1"/><circle cx="313.1" cy="525.7" r="4.1"/><circle cx="326.2" cy="524.6" r="4.1"/><circle cx="350.2" cy="520.2" r="4.1"/><circle cx="348.5" cy="524.6" r="4.1"/><circle cx="360.1" cy="524.6" r="4.1"/><circle cx="169.2" cy="528.3" r="4.1"/><circle cx="190.6" cy="530.0" r="4.1"/><circle cx="199.4" cy="527.8" r="4.1"/><circle cx="207.0" cy="525.7" r="4.1"/><circle cx="225.6" cy="527.8" r="4.1"/><circle cx="234.3" cy="527.8" r="4.1"/><circle cx="243.1" cy="528.9" r="4.1"/><circle cx="254.0" cy="527.8" r="4.1"/><circle cx="267.2" cy="528.9" r="4.1"/><circle cx="278.1" cy="530.0" r="4.1"/><circle cx="286.8" cy="527.8" r="4.1"/><circle cx="297.8" cy="528.9" r="4.1"/><circle cx="308.7" cy="527.8" r="4.1"/><circle cx="321.8" cy="530.0" r="4.1"/><circle cx="186.2" cy="535.5" r="4.1"/><circle cx="195.0" cy="534.4" r="4.1"/><circle cx="203.7" cy="532.2" r="4.1"/><circle cx="212.5" cy="533.3" r="4.1"/><circle cx="221.2" cy="534.4" r="4.1"/><circle cx="232.2" cy="533.3" r="4.1"/><circle cx="243.1" cy="534.4" r="4.1"/><circle cx="251.8" cy="533.3" r="4.1"/><circle cx="262.8" cy="535.5" r="4.1"/><circle cx="275.9" cy="534.4" r="4.1"/><circle cx="286.8" cy="535.5" r="4.1"/><circle cx="295.6" cy="533.3" r="4.1"/><circle cx="304.3" cy="534.4" r="4.1"/><circle cx="315.3" cy="535.5" r="4.1"/><circle cx="326.2" cy="534.4" r="4.1"/><circle cx="337.1" cy="536.6" r="4.1"/><circle cx="341.5" cy="536.6" r="4.1"/><circle cx="178.6" cy="544.2" r="4.1"/><circle cx="200.5" cy="542.7" r="4.1"/><circle cx="210.3" cy="541.0" r="4.1"/><circle cx="221.2" cy="542.1" r="4.1"/><circle cx="232.2" cy="541.0" r="4.1"/><circle cx="243.1" cy="543.2" r="4.1"/><circle cx="256.2" cy="541.0" r="4.1"/><circle cx="267.2" cy="542.1" r="4.1"/><circle cx="282.5" cy="541.0" r="4.1"/><circle cx="295.6" cy="543.2" r="4.1"/><circle cx="308.7" cy="542.1" r="4.1"/><circle cx="321.8" cy="541.0" r="4.1"/><circle cx="352.4" cy="543.2" r="4.1"/><circle cx="173.1" cy="550.5" r="4.1"/><circle cx="178.6" cy="546.1" r="4.1"/><circle cx="181.9" cy="554.2" r="4.1"/><circle cx="187.3" cy="549.8" r="4.1"/><circle cx="193.9" cy="550.9" r="4.1"/><circle cx="207.0" cy="547.7" r="4.1"/><circle cx="212.5" cy="549.8" r="4.1"/><circle cx="221.2" cy="548.7" r="4.1"/><circle cx="230.0" cy="546.6" r="4.1"/><circle cx="238.7" cy="548.7" r="4.1"/><circle cx="247.5" cy="546.6" r="4.1"/><circle cx="256.2" cy="549.8" r="4.1"/><circle cx="265.0" cy="547.7" r="4.1"/><circle cx="273.7" cy="548.7" r="4.1"/><circle cx="282.5" cy="546.6" r="4.1"/><circle cx="291.2" cy="549.8" r="4.1"/><circle cx="300.0" cy="547.7" r="4.1"/><circle cx="310.9" cy="548.7" r="4.1"/><circle cx="321.8" cy="546.6" r="4.1"/><circle cx="330.6" cy="549.8" r="4.1"/><circle cx="337.1" cy="548.7" r="4.1"/><circle cx="343.7" cy="553.1" r="4.1"/><circle cx="352.4" cy="543.3" r="4.1"/><circle cx="205.9" cy="557.5" r="4.1"/><circle cx="214.7" cy="556.4" r="4.1"/><circle cx="223.4" cy="558.6" r="4.1"/><circle cx="232.2" cy="557.5" r="4.1"/><circle cx="243.1" cy="559.7" r="4.1"/><circle cx="251.8" cy="556.4" r="4.1"/><circle cx="260.6" cy="559.7" r="4.1"/><circle cx="269.3" cy="557.5" r="4.1"/><circle cx="278.1" cy="560.8" r="4.1"/><circle cx="286.8" cy="558.6" r="4.1"/><circle cx="295.6" cy="559.7" r="4.1"/><circle cx="304.3" cy="557.5" r="4.1"/><circle cx="313.1" cy="558.6" r="4.1"/><circle cx="324.0" cy="561.9" r="4.1"/><circle cx="334.9" cy="555.3" r="4.1"/><circle cx="345.9" cy="559.7" r="4.1"/><circle cx="352.0" cy="558.6" r="4.1"/><circle cx="187.3" cy="567.3" r="4.1"/><circle cx="196.1" cy="571.7" r="4.1"/><circle cx="203.7" cy="569.5" r="4.1"/><circle cx="212.5" cy="570.6" r="4.1"/><circle cx="223.4" cy="568.4" r="4.1"/><circle cx="232.2" cy="566.2" r="4.1"/><circle cx="240.9" cy="569.5" r="4.1"/><circle cx="249.7" cy="567.3" r="4.1"/><circle cx="258.4" cy="570.6" r="4.1"/><circle cx="267.2" cy="568.4" r="4.1"/><circle cx="275.9" cy="565.1" r="4.1"/><circle cx="284.6" cy="567.3" r="4.1"/><circle cx="293.4" cy="566.2" r="4.1"/><circle cx="304.3" cy="568.4" r="4.1"/><circle cx="313.1" cy="570.6" r="4.1"/><circle cx="317.4" cy="564.1" r="4.1"/><circle cx="360.7" cy="568.4" r="4.1"/><circle cx="197.2" cy="579.4" r="4.1"/><circle cx="210.3" cy="578.3" r="4.1"/><circle cx="219.0" cy="577.2" r="4.1"/><circle cx="227.8" cy="575.0" r="4.1"/><circle cx="236.5" cy="578.3" r="4.1"/><circle cx="245.3" cy="576.1" r="4.1"/><circle cx="254.0" cy="579.4" r="4.1"/><circle cx="262.8" cy="577.2" r="4.1"/><circle cx="273.7" cy="575.0" r="4.1"/><circle cx="280.3" cy="573.9" r="4.1"/><circle cx="289.0" cy="579.4" r="4.1"/><circle cx="297.8" cy="578.3" r="4.1"/><circle cx="308.7" cy="576.1" r="4.1"/><circle cx="324.0" cy="577.2" r="4.1"/><circle cx="348.1" cy="582.6" r="4.1"/><circle cx="353.5" cy="579.4" r="4.1"/><circle cx="183.0" cy="585.3" r="4.1"/><circle cx="198.3" cy="585.9" r="4.1"/><circle cx="201.5" cy="589.9" r="4.1"/><circle cx="212.5" cy="588.1" r="4.1"/><circle cx="223.4" cy="587.0" r="4.1"/><circle cx="232.2" cy="583.7" r="4.1"/><circle cx="243.1" cy="587.0" r="4.1"/><circle cx="251.8" cy="585.9" r="4.1"/><circle cx="260.6" cy="587.0" r="4.1"/><circle cx="269.3" cy="589.2" r="4.1"/><circle cx="278.1" cy="585.9" r="4.1"/><circle cx="286.8" cy="588.1" r="4.1"/><circle cx="295.6" cy="587.0" r="4.1"/><circle cx="304.3" cy="585.9" r="4.1"/><circle cx="313.1" cy="587.0" r="4.1"/><circle cx="317.4" cy="592.5" r="4.1"/><circle cx="339.3" cy="587.0" r="4.1"/><circle cx="337.1" cy="591.4" r="4.1"/><circle cx="188.4" cy="597.9" r="4.1"/><circle cx="195.0" cy="600.1" r="4.1"/><circle cx="203.7" cy="601.2" r="4.1"/><circle cx="212.5" cy="599.0" r="4.1"/><circle cx="219.0" cy="594.7" r="4.1"/><circle cx="225.6" cy="602.3" r="4.1"/><circle cx="238.7" cy="597.9" r="4.1"/><circle cx="245.3" cy="603.4" r="4.1"/><circle cx="251.8" cy="601.2" r="4.1"/><circle cx="260.6" cy="605.6" r="4.1"/><circle cx="269.3" cy="602.3" r="4.1"/><circle cx="279.2" cy="599.0" r="4.1"/><circle cx="286.8" cy="601.2" r="4.1"/><circle cx="295.6" cy="603.4" r="4.1"/><circle cx="302.1" cy="599.0" r="4.1"/><circle cx="313.1" cy="601.2" r="4.1"/><circle cx="333.8" cy="605.6" r="4.1"/><circle cx="199.4" cy="613.7" r="4.1"/><circle cx="208.1" cy="607.8" r="4.1"/><circle cx="214.7" cy="611.1" r="4.1"/><circle cx="231.1" cy="605.2" r="4.1"/><circle cx="245.3" cy="611.1" r="4.1"/><circle cx="251.8" cy="617.6" r="4.1"/><circle cx="259.5" cy="612.2" r="4.1"/><circle cx="267.2" cy="615.4" r="4.1"/><circle cx="283.6" cy="613.3" r="4.1"/><circle cx="291.2" cy="610.0" r="4.1"/><circle cx="308.7" cy="609.5" r="4.1"/><circle cx="317.4" cy="615.4" r="4.1"/><circle cx="212.5" cy="630.8" r="4.1"/><circle cx="223.4" cy="628.6" r="4.1"/><circle cx="234.3" cy="635.8" r="4.1"/><circle cx="225.6" cy="639.5" r="4.1"/><circle cx="246.4" cy="624.2" r="4.1"/><circle cx="261.7" cy="627.5" r="4.1"/><circle cx="271.5" cy="623.1" r="4.1"/><circle cx="282.5" cy="622.0" r="4.1"/><circle cx="291.2" cy="635.6" r="4.1"/><circle cx="300.0" cy="622.0" r="4.1"/><circle cx="304.3" cy="619.8" r="4.1"/><circle cx="310.9" cy="628.6" r="4.1"/><circle cx="313.1" cy="631.8" r="4.1"/><circle cx="321.8" cy="622.0" r="4.1"/><circle cx="296.4" cy="515.4" r="4.1"/><circle cx="256.3" cy="542.8" r="4.1"/><circle cx="279.6" cy="590.6" r="4.1"/><circle cx="307.1" cy="540.5" r="4.1"/><circle cx="248.8" cy="581.2" r="4.1"/><circle cx="186.2" cy="555.8" r="4.1"/><circle cx="322.5" cy="533.2" r="4.1"/><circle cx="214.7" cy="539.0" r="4.1"/><circle cx="247.7" cy="549.4" r="4.1"/><circle cx="217.2" cy="512.0" r="4.1"/><circle cx="215.0" cy="544.3" r="4.1"/><circle cx="307.4" cy="557.9" r="4.1"/><circle cx="278.2" cy="505.7" r="4.1"/><circle cx="200.4" cy="526.4" r="4.1"/><circle cx="290.0" cy="579.7" r="4.1"/><circle cx="322.1" cy="539.0" r="4.1"/><circle cx="306.2" cy="573.9" r="4.1"/><circle cx="227.7" cy="562.3" r="4.1"/><circle cx="257.8" cy="562.5" r="4.1"/><circle cx="301.4" cy="537.9" r="4.1"/><circle cx="208.2" cy="556.8" r="4.1"/><circle cx="287.3" cy="574.5" r="4.1"/><circle cx="238.3" cy="541.3" r="4.1"/><circle cx="258.3" cy="589.2" r="4.1"/><circle cx="260.1" cy="534.9" r="4.1"/><circle cx="188.9" cy="578.6" r="4.1"/><circle cx="329.1" cy="563.1" r="4.1"/><circle cx="241.1" cy="503.5" r="4.1"/><circle cx="257.3" cy="617.9" r="4.1"/><circle cx="297.4" cy="555.5" r="4.1"/><circle cx="310.8" cy="512.2" r="4.1"/><circle cx="259.0" cy="613.7" r="4.1"/><circle cx="268.6" cy="544.2" r="4.1"/><circle cx="222.6" cy="556.7" r="4.1"/><circle cx="299.3" cy="595.1" r="4.1"/><circle cx="314.6" cy="583.8" r="4.1"/><circle cx="303.1" cy="552.6" r="4.1"/><circle cx="266.2" cy="539.5" r="4.1"/><circle cx="267.4" cy="507.6" r="4.1"/><circle cx="257.7" cy="547.8" r="4.1"/><circle cx="235.6" cy="528.3" r="4.1"/><circle cx="262.7" cy="567.4" r="4.1"/><circle cx="273.8" cy="544.0" r="4.1"/><circle cx="208.8" cy="561.9" r="4.1"/><circle cx="310.9" cy="592.0" r="4.1"/><circle cx="220.5" cy="598.1" r="4.1"/><circle cx="198.7" cy="567.5" r="4.1"/><circle cx="233.8" cy="489.3" r="4.1"/><circle cx="206.2" cy="553.8" r="4.1"/><circle cx="207.5" cy="517.9" r="4.1"/><circle cx="288.6" cy="543.6" r="4.1"/><circle cx="230.4" cy="546.3" r="4.1"/><circle cx="245.2" cy="506.0" r="4.1"/><circle cx="258.5" cy="508.9" r="4.1"/><circle cx="272.8" cy="594.6" r="4.1"/><circle cx="204.2" cy="580.8" r="4.1"/><circle cx="283.6" cy="556.2" r="4.1"/><circle cx="215.7" cy="570.9" r="4.1"/><circle cx="241.3" cy="560.6" r="4.1"/><circle cx="230.3" cy="568.4" r="4.1"/><circle cx="228.1" cy="600.5" r="4.1"/><circle cx="228.7" cy="611.9" r="4.1"/><circle cx="293.4" cy="538.1" r="4.1"/><circle cx="267.5" cy="503.7" r="4.1"/><circle cx="287.4" cy="551.2" r="4.1"/><circle cx="213.1" cy="574.5" r="4.1"/><circle cx="198.0" cy="573.3" r="4.1"/><circle cx="226.6" cy="549.9" r="4.1"/><circle cx="212.4" cy="525.7" r="4.1"/><circle cx="233.0" cy="509.5" r="4.1"/><circle cx="283.0" cy="597.5" r="4.1"/><circle cx="321.5" cy="527.9" r="4.1"/><circle cx="314.1" cy="576.3" r="4.1"/><circle cx="217.4" cy="581.7" r="4.1"/><circle cx="295.7" cy="564.1" r="4.1"/><circle cx="307.9" cy="531.4" r="4.1"/><circle cx="233.2" cy="520.5" r="4.1"/><circle cx="311.8" cy="564.6" r="4.1"/><circle cx="202.6" cy="557.2" r="4.1"/><circle cx="233.3" cy="566.2" r="4.1"/><circle cx="299.1" cy="532.8" r="4.1"/><circle cx="194.6" cy="517.1" r="4.1"/><circle cx="315.3" cy="559.0" r="4.1"/><circle cx="320.4" cy="544.0" r="4.1"/><circle cx="223.7" cy="590.4" r="4.1"/><circle cx="282.4" cy="492.4" r="4.1"/><circle cx="199.6" cy="503.1" r="4.1"/><circle cx="318.1" cy="520.9" r="4.1"/><circle cx="220.2" cy="546.7" r="4.1"/><circle cx="229.1" cy="488.4" r="4.1"/><circle cx="214.5" cy="566.6" r="4.1"/><circle cx="328.6" cy="556.0" r="4.1"/><circle cx="228.2" cy="514.2" r="4.1"/><circle cx="329.1" cy="542.6" r="4.1"/><circle cx="279.7" cy="570.2" r="4.1"/><circle cx="228.2" cy="525.6" r="4.1"/><circle cx="232.3" cy="556.2" r="4.1"/><circle cx="268.8" cy="563.5" r="4.1"/><circle cx="218.8" cy="489.7" r="4.1"/><circle cx="264.6" cy="489.5" r="4.1"/><circle cx="193.6" cy="569.0" r="4.1"/><circle cx="256.0" cy="601.1" r="4.1"/><circle cx="205.4" cy="550.1" r="4.1"/><circle cx="305.0" cy="524.5" r="4.1"/><circle cx="198.3" cy="552.0" r="4.1"/><circle cx="229.5" cy="606.8" r="4.1"/><circle cx="307.8" cy="584.6" r="4.1"/><circle cx="285.3" cy="504.6" r="4.1"/><circle cx="246.9" cy="501.7" r="4.1"/><circle cx="264.3" cy="555.8" r="4.1"/><circle cx="309.4" cy="543.4" r="4.1"/><circle cx="241.4" cy="527.2" r="4.1"/><circle cx="278.8" cy="538.2" r="4.1"/><circle cx="235.3" cy="499.0" r="4.1"/><circle cx="201.1" cy="516.0" r="4.1"/><circle cx="306.1" cy="535.5" r="4.1"/><circle cx="242.2" cy="565.8" r="4.1"/><circle cx="261.3" cy="550.1" r="4.1"/><circle cx="284.8" cy="582.6" r="4.1"/><circle cx="253.8" cy="511.2" r="4.1"/><circle cx="223.5" cy="570.6" r="4.1"/><circle cx="206.2" cy="587.4" r="4.1"/><circle cx="314.1" cy="523.4" r="4.1"/><circle cx="237.8" cy="578.3" r="4.1"/><circle cx="325.6" cy="560.0" r="4.1"/><circle cx="214.9" cy="559.7" r="4.1"/><circle cx="234.3" cy="552.1" r="4.1"/><circle cx="302.9" cy="568.1" r="4.1"/><circle cx="222.3" cy="608.1" r="4.1"/><circle cx="280.8" cy="578.2" r="4.1"/><circle cx="248.8" cy="609.7" r="4.1"/><circle cx="327.3" cy="533.4" r="4.1"/><circle cx="207.0" cy="525.4" r="4.1"/><circle cx="272.0" cy="537.0" r="4.1"/><circle cx="200.0" cy="521.1" r="4.1"/><circle cx="219.4" cy="585.1" r="4.1"/><circle cx="276.0" cy="564.8" r="4.1"/><circle cx="307.0" cy="508.6" r="4.1"/><circle cx="223.2" cy="562.0" r="4.1"/><circle cx="219.8" cy="575.8" r="4.1"/><circle cx="297.1" cy="559.9" r="4.1"/><circle cx="239.6" cy="519.5" r="4.1"/><circle cx="198.5" cy="593.3" r="4.1"/><circle cx="200.0" cy="584.8" r="4.1"/><circle cx="263.8" cy="615.5" r="4.1"/><circle cx="267.8" cy="523.3" r="4.1"/><circle cx="257.4" cy="529.8" r="4.1"/><circle cx="248.4" cy="542.8" r="4.1"/><circle cx="227.9" cy="535.8" r="4.1"/><circle cx="299.2" cy="575.8" r="4.1"/><circle cx="255.8" cy="570.8" r="4.1"/><circle cx="238.7" cy="508.2" r="4.1"/><circle cx="271.6" cy="603.7" r="4.1"/><circle cx="227.9" cy="503.5" r="4.1"/><circle cx="274.9" cy="554.3" r="4.1"/><circle cx="242.9" cy="600.9" r="4.1"/><circle cx="269.6" cy="582.9" r="4.1"/><circle cx="255.9" cy="584.6" r="4.1"/><circle cx="276.3" cy="568.8" r="4.1"/><circle cx="234.5" cy="516.8" r="4.1"/><circle cx="255.1" cy="566.2" r="4.1"/><circle cx="244.8" cy="525.4" r="4.1"/><circle cx="240.8" cy="553.9" r="4.1"/><circle cx="239.2" cy="511.2" r="4.1"/><circle cx="229.9" cy="533.6" r="4.1"/><circle cx="230.8" cy="521.6" r="4.1"/><circle cx="232.0" cy="526.4" r="4.1"/><circle cx="226.7" cy="581.1" r="4.1"/><circle cx="235.8" cy="549.5" r="4.1"/><circle cx="223.3" cy="509.1" r="4.1"/><circle cx="245.0" cy="513.4" r="4.1"/><circle cx="248.8" cy="582.5" r="4.1"/><circle cx="250.5" cy="571.4" r="4.1"/><circle cx="250.0" cy="564.2" r="4.1"/><circle cx="231.8" cy="546.6" r="4.1"/><circle cx="233.6" cy="584.2" r="4.1"/><circle cx="234.2" cy="575.3" r="4.1"/><circle cx="259.0" cy="540.0" r="4.1"/><circle cx="238.4" cy="583.8" r="4.1"/><circle cx="248.1" cy="542.5" r="4.1"/><circle cx="216.9" cy="527.0" r="4.1"/><circle cx="259.6" cy="521.6" r="4.1"/><circle cx="259.8" cy="525.6" r="4.1"/><circle cx="234.5" cy="545.4" r="4.1"/><circle cx="243.6" cy="552.1" r="4.1"/><circle cx="222.5" cy="515.9" r="4.1"/><circle cx="241.9" cy="503.2" r="4.1"/><circle cx="259.5" cy="514.3" r="4.1"/><circle cx="249.4" cy="501.7" r="4.1"/><circle cx="243.7" cy="522.1" r="4.1"/><circle cx="209.7" cy="545.9" r="4.1"/><circle cx="256.2" cy="519.4" r="4.1"/><circle cx="229.4" cy="564.4" r="4.1"/><circle cx="213.8" cy="560.2" r="4.1"/><circle cx="253.7" cy="511.0" r="4.1"/><circle cx="241.4" cy="566.8" r="4.1"/><circle cx="210.1" cy="528.2" r="4.1"/><circle cx="205.0" cy="538.8" r="4.1"/><circle cx="256.7" cy="563.3" r="4.1"/><circle cx="232.5" cy="517.6" r="4.1"/><circle cx="209.5" cy="538.8" r="4.1"/><circle cx="257.5" cy="508.2" r="4.1"/><circle cx="239.5" cy="533.5" r="4.1"/><circle cx="235.1" cy="509.8" r="4.1"/><circle cx="262.8" cy="520.8" r="4.1"/><circle cx="240.8" cy="536.1" r="4.1"/><circle cx="204.2" cy="549.3" r="4.1"/><circle cx="209.1" cy="556.6" r="4.1"/><circle cx="234.7" cy="589.8" r="4.1"/><circle cx="217.6" cy="538.5" r="4.1"/><circle cx="218.7" cy="552.4" r="4.1"/><circle cx="241.9" cy="572.4" r="4.1"/><circle cx="247.2" cy="520.5" r="4.1"/><circle cx="228.5" cy="506.7" r="4.1"/><circle cx="217.5" cy="516.8" r="4.1"/><circle cx="283.2" cy="539.7" r="4.1"/><circle cx="290.9" cy="542.7" r="4.1"/><circle cx="284.5" cy="524.3" r="4.1"/><circle cx="318.0" cy="536.3" r="4.1"/><circle cx="306.5" cy="520.1" r="4.1"/><circle cx="306.3" cy="555.8" r="4.1"/><circle cx="299.8" cy="549.5" r="4.1"/><circle cx="313.4" cy="542.0" r="4.1"/><circle cx="286.9" cy="514.2" r="4.1"/><circle cx="311.1" cy="556.4" r="4.1"/><circle cx="292.4" cy="552.5" r="4.1"/><circle cx="277.3" cy="523.4" r="4.1"/><circle cx="305.8" cy="527.6" r="4.1"/><circle cx="298.9" cy="531.8" r="4.1"/><circle cx="303.3" cy="557.6" r="4.1"/><circle cx="309.0" cy="558.8" r="4.1"/><circle cx="321.9" cy="541.0" r="4.1"/><circle cx="310.9" cy="523.1" r="4.1"/><circle cx="317.7" cy="541.2" r="4.1"/><circle cx="293.2" cy="520.1" r="4.1"/><circle cx="286.5" cy="550.9" r="4.1"/><circle cx="311.1" cy="529.1" r="4.1"/><circle cx="280.9" cy="532.9" r="4.1"/><circle cx="321.5" cy="531.4" r="4.1"/><circle cx="296.1" cy="538.5" r="4.1"/><circle cx="306.8" cy="542.3" r="4.1"/><circle cx="301.9" cy="543.5" r="4.1"/><circle cx="324.0" cy="537.9" r="4.1"/><circle cx="294.5" cy="548.5" r="4.1"/><circle cx="283.2" cy="527.6" r="4.1"/><circle cx="293.5" cy="541.5" r="4.1"/><circle cx="305.8" cy="535.8" r="4.1"/><circle cx="308.8" cy="530.2" r="4.1"/><circle cx="310.5" cy="549.4" r="4.1"/><circle cx="284.0" cy="535.3" r="4.1"/><circle cx="276.0" cy="567.5" r="4.1"/><circle cx="283.3" cy="570.1" r="4.1"/><circle cx="268.3" cy="582.4" r="4.1"/><circle cx="300.2" cy="573.4" r="4.1"/><circle cx="289.8" cy="576.1" r="4.1"/><circle cx="273.2" cy="567.7" r="4.1"/><circle cx="303.1" cy="602.5" r="4.1"/><circle cx="279.4" cy="593.6" r="4.1"/><circle cx="298.7" cy="604.9" r="4.1"/><circle cx="292.9" cy="595.8" r="4.1"/><circle cx="288.4" cy="571.2" r="4.1"/><circle cx="286.9" cy="566.8" r="4.1"/><circle cx="306.7" cy="590.9" r="4.1"/><circle cx="288.5" cy="583.0" r="4.1"/><circle cx="292.6" cy="583.8" r="4.1"/><circle cx="272.6" cy="577.6" r="4.1"/><circle cx="267.4" cy="593.5" r="4.1"/><circle cx="278.1" cy="589.0" r="4.1"/><circle cx="286.8" cy="579.4" r="4.1"/><circle cx="294.1" cy="576.1" r="4.1"/><circle cx="281.5" cy="599.5" r="4.1"/><circle cx="268.1" cy="573.8" r="4.1"/><circle cx="300.2" cy="593.0" r="4.1"/><circle cx="276.1" cy="578.9" r="4.1"/><circle cx="273.4" cy="585.2" r="4.1"/></g>
<g fill="#d95f02"><circle cx="560.7" cy="463.5" r="4.1"/><circle cx="591.2" cy="510.3" r="4.1"/><circle cx="517.8" cy="517.7" r="4.1"/><circle cx="530.0" cy="529.4" r="4.1"/><circle cx="535.9" cy="537.1" r="4.1"/><circle cx="547.2" cy="534.4" r="4.1"/><circle cx="579.0" cy="539.2" r="4.1"/><circle cx="612.3" cy="538.6" r="4.1"/><circle cx="524.4" cy="559.5" r="4.1"/><circle cx="542.2" cy="557.1" r="4.1"/><circle cx="537.6" cy="565.3" r="4.1"/><circle cx="527.4" cy="568.6" r="4.1"/><circle cx="532.8" cy="570.8" r="4.1"/><circle cx="536.8" cy="574.0" r="4.1"/><circle cx="559.0" cy="572.5" r="4.1"/><circle cx="587.7" cy="571.2" r="4.1"/><circle cx="485.4" cy="565.3" r="4.1"/><circle cx="504.6" cy="570.8" r="4.1"/><circle cx="499.1" cy="576.2" r="4.1"/><circle cx="604.2" cy="584.9" r="4.1"/><circle cx="559.4" cy="589.3" r="4.1"/><circle cx="564.4" cy="597.3" r="4.1"/><circle cx="596.0" cy="600.2" r="4.1"/><circle cx="600.7" cy="596.9" r="4.1"/><circle cx="603.6" cy="605.6" r="4.1"/><circle cx="625.3" cy="602.8" r="4.1"/><circle cx="637.5" cy="601.3" r="4.1"/><circle cx="627.5" cy="610.4" r="4.1"/><circle cx="545.9" cy="613.2" r="4.1"/><circle cx="548.5" cy="617.1" r="4.1"/><circle cx="554.6" cy="611.0" r="4.1"/><circle cx="557.9" cy="608.9" r="4.1"/><circle cx="579.6" cy="612.1" r="4.1"/><circle cx="582.9" cy="618.2" r="4.1"/><circle cx="563.7" cy="617.6" r="4.1"/><circle cx="564.4" cy="624.1" r="4.1"/><circle cx="572.7" cy="632.8" r="4.1"/><circle cx="613.4" cy="630.0" r="4.1"/><circle cx="619.9" cy="636.5" r="4.1"/><circle cx="623.8" cy="637.6" r="4.1"/><circle cx="505.6" cy="606.7" r="4.1"/><circle cx="515.4" cy="604.5" r="4.1"/><circle cx="524.1" cy="606.7" r="4.1"/><circle cx="532.8" cy="606.3" r="4.1"/><circle cx="540.5" cy="591.5" r="4.1"/><circle cx="547.0" cy="589.3" r="4.1"/><circle cx="550.3" cy="594.7" r="4.1"/><circle cx="553.5" cy="600.2" r="4.1"/><circle cx="556.8" cy="602.3" r="4.1"/><circle cx="540.5" cy="587.1" r="4.1"/><circle cx="527.4" cy="580.6" r="4.1"/><circle cx="516.5" cy="582.8" r="4.1"/><circle cx="510.0" cy="586.0" r="4.1"/><circle cx="505.6" cy="600.2" r="4.1"/><circle cx="523.1" cy="600.2" r="4.1"/><circle cx="529.6" cy="598.0" r="4.1"/><circle cx="525.2" cy="589.3" r="4.1"/><circle cx="531.8" cy="591.5" r="4.1"/><circle cx="514.3" cy="593.6" r="4.1"/><circle cx="518.7" cy="600.2" r="4.1"/><circle cx="501.3" cy="589.3" r="4.1"/><circle cx="492.6" cy="584.9" r="4.1"/><circle cx="486.1" cy="580.6" r="4.1"/><circle cx="479.5" cy="575.1" r="4.1"/><circle cx="475.2" cy="580.6" r="4.1"/><circle cx="484.4" cy="587.0" r="4.1"/><circle cx="506.4" cy="583.7" r="4.1"/><circle cx="487.0" cy="588.0" r="4.1"/><circle cx="471.8" cy="585.3" r="4.1"/><circle cx="492.7" cy="595.1" r="4.1"/><circle cx="493.8" cy="589.0" r="4.1"/><circle cx="483.8" cy="596.9" r="4.1"/><circle cx="487.5" cy="589.8" r="4.1"/><circle cx="484.6" cy="577.2" r="4.1"/><circle cx="502.5" cy="592.2" r="4.1"/><circle cx="478.0" cy="575.5" r="4.1"/><circle cx="499.1" cy="581.5" r="4.1"/><circle cx="508.0" cy="597.0" r="4.1"/><circle cx="466.6" cy="589.4" r="4.1"/><circle cx="508.3" cy="593.9" r="4.1"/><circle cx="489.4" cy="583.1" r="4.1"/><circle cx="472.1" cy="593.0" r="4.1"/><circle cx="469.3" cy="589.9" r="4.1"/><circle cx="473.1" cy="581.2" r="4.1"/><circle cx="503.2" cy="589.9" r="4.1"/><circle cx="467.4" cy="587.8" r="4.1"/><circle cx="474.6" cy="588.5" r="4.1"/><circle cx="480.6" cy="583.3" r="4.1"/><circle cx="490.1" cy="597.7" r="4.1"/><circle cx="505.7" cy="596.0" r="4.1"/><circle cx="497.8" cy="600.3" r="4.1"/><circle cx="504.5" cy="588.5" r="4.1"/><circle cx="482.9" cy="571.1" r="4.1"/><circle cx="474.4" cy="592.1" r="4.1"/><circle cx="475.2" cy="596.2" r="4.1"/><circle cx="491.1" cy="577.7" r="4.1"/><circle cx="484.1" cy="569.6" r="4.1"/><circle cx="471.5" cy="580.4" r="4.1"/><circle cx="480.1" cy="598.5" r="4.1"/><circle cx="509.1" cy="590.4" r="4.1"/><circle cx="495.5" cy="587.9" r="4.1"/><circle cx="496.0" cy="601.0" r="4.1"/><circle cx="485.8" cy="593.0" r="4.1"/><circle cx="497.7" cy="592.0" r="4.1"/><circle cx="500.3" cy="599.4" r="4.1"/><circle cx="479.7" cy="591.4" r="4.1"/><circle cx="505.4" cy="597.9" r="4.1"/><circle cx="482.7" cy="595.0" r="4.1"/><circle cx="492.4" cy="580.8" r="4.1"/><circle cx="490.5" cy="588.7" r="4.1"/><circle cx="497.3" cy="581.0" r="4.1"/><circle cx="497.6" cy="587.7" r="4.1"/><circle cx="467.1" cy="593.6" r="4.1"/><circle cx="485.7" cy="575.5" r="4.1"/><circle cx="495.9" cy="584.8" r="4.1"/><circle cx="492.0" cy="599.6" r="4.1"/><circle cx="477.3" cy="591.1" r="4.1"/><circle cx="505.6" cy="590.5" r="4.1"/><circle cx="469.6" cy="584.8" r="4.1"/><circle cx="502.4" cy="597.1" r="4.1"/><circle cx="492.5" cy="584.7" r="4.1"/><circle cx="478.0" cy="596.7" r="4.1"/><circle cx="485.4" cy="573.7" r="4.1"/><circle cx="475.9" cy="579.6" r="4.1"/><circle cx="506.8" cy="592.7" r="4.1"/><circle cx="480.8" cy="587.3" r="4.1"/><circle cx="497.0" cy="596.0" r="4.1"/><circle cx="493.2" cy="592.5" r="4.1"/><circle cx="488.3" cy="595.1" r="4.1"/><circle cx="486.0" cy="568.5" r="4.1"/><circle cx="478.9" cy="595.0" r="4.1"/><circle cx="476.8" cy="592.9" r="4.1"/><circle cx="502.7" cy="587.0" r="4.1"/><circle cx="477.8" cy="580.8" r="4.1"/><circle cx="502.8" cy="598.9" r="4.1"/><circle cx="508.5" cy="585.8" r="4.1"/><circle cx="490.0" cy="574.5" r="4.1"/><circle cx="488.3" cy="585.0" r="4.1"/><circle cx="508.0" cy="599.7" r="4.1"/><circle cx="475.8" cy="584.0" r="4.1"/><circle cx="469.1" cy="582.6" r="4.1"/><circle cx="472.2" cy="589.0" r="4.1"/><circle cx="495.3" cy="578.7" r="4.1"/><circle cx="479.8" cy="589.1" r="4.1"/><circle cx="488.0" cy="573.1" r="4.1"/><circle cx="502.1" cy="582.2" r="4.1"/><circle cx="482.0" cy="591.4" r="4.1"/><circle cx="495.1" cy="599.3" r="4.1"/><circle cx="502.5" cy="602.0" r="4.1"/><circle cx="478.5" cy="583.8" r="4.1"/><circle cx="487.3" cy="582.5" r="4.1"/><circle cx="471.7" cy="583.3" r="4.1"/><circle cx="509.2" cy="595.5" r="4.1"/><circle cx="495.7" cy="594.2" r="4.1"/><circle cx="475.2" cy="581.5" r="4.1"/><circle cx="491.2" cy="594.0" r="4.1"/><circle cx="480.3" cy="577.5" r="4.1"/><circle cx="493.9" cy="587.0" r="4.1"/><circle cx="483.3" cy="584.1" r="4.1"/><circle cx="487.7" cy="600.2" r="4.1"/><circle cx="483.9" cy="590.8" r="4.1"/><circle cx="499.6" cy="586.0" r="4.1"/><circle cx="499.9" cy="589.3" r="4.1"/><circle cx="478.4" cy="586.6" r="4.1"/><circle cx="483.2" cy="580.4" r="4.1"/><circle cx="473.2" cy="590.6" r="4.1"/><circle cx="506.2" cy="600.2" r="4.1"/><circle cx="480.3" cy="580.2" r="4.1"/><circle cx="472.3" cy="587.2" r="4.1"/><circle cx="488.7" cy="587.3" r="4.1"/><circle cx="469.9" cy="593.5" r="4.1"/><circle cx="473.5" cy="594.2" r="4.1"/><circle cx="486.3" cy="586.2" r="4.1"/><circle cx="487.7" cy="592.2" r="4.1"/><circle cx="480.8" cy="573.4" r="4.1"/><circle cx="518.3" cy="598.5" r="4.1"/><circle cx="525.2" cy="584.5" r="4.1"/><circle cx="501.7" cy="590.8" r="4.1"/><circle cx="511.1" cy="602.6" r="4.1"/><circle cx="526.1" cy="596.9" r="4.1"/><circle cx="506.5" cy="592.5" r="4.1"/><circle cx="507.1" cy="605.2" r="4.1"/><circle cx="504.0" cy="599.3" r="4.1"/><circle cx="513.4" cy="591.6" r="4.1"/><circle cx="519.6" cy="583.1" r="4.1"/><circle cx="522.7" cy="593.5" r="4.1"/><circle cx="515.1" cy="581.4" r="4.1"/><circle cx="527.4" cy="606.9" r="4.1"/><circle cx="536.3" cy="598.6" r="4.1"/><circle cx="505.4" cy="587.0" r="4.1"/><circle cx="530.4" cy="594.2" r="4.1"/><circle cx="513.6" cy="597.9" r="4.1"/><circle cx="518.4" cy="606.7" r="4.1"/><circle cx="529.0" cy="589.9" r="4.1"/><circle cx="510.0" cy="580.8" r="4.1"/><circle cx="516.4" cy="587.1" r="4.1"/><circle cx="533.5" cy="605.3" r="4.1"/><circle cx="534.9" cy="590.5" r="4.1"/><circle cx="523.1" cy="603.5" r="4.1"/><circle cx="530.3" cy="585.2" r="4.1"/><circle cx="511.9" cy="585.7" r="4.1"/><circle cx="504.3" cy="582.1" r="4.1"/><circle cx="520.8" cy="589.2" r="4.1"/></g>
<g><circle cx="304.9" cy="774.3" r="4.1" fill="#d95f02"/><circle cx="198.4" cy="807.0" r="4.1" fill="#e7298a"/><circle cx="222.1" cy="818.1" r="4.1" fill="#e7298a"/><circle cx="191.3" cy="870.9" r="4.1" fill="#e7298a"/><circle cx="265.6" cy="803.6" r="4.1" fill="#7570b3"/><circle cx="267.6" cy="876.9" r="4.1" fill="#d95f02"/><circle cx="207.2" cy="824.2" r="4.1" fill="#e7298a"/><circle cx="269.8" cy="808.3" r="4.1" fill="#d95f02"/><circle cx="305.0" cy="755.3" r="4.1" fill="#d95f02"/><circle cx="209.9" cy="842.7" r="4.1" fill="#e7298a"/><circle cx="221.5" cy="813.6" r="4.1" fill="#e7298a"/><circle cx="218.8" cy="803.8" r="4.1" fill="#d95f02"/><circle cx="242.5" cy="825.4" r="4.1" fill="#7570b3"/><circle cx="331.4" cy="825.3" r="4.1" fill="#d95f02"/><circle cx="240.7" cy="824.6" r="4.1" fill="#d95f02"/><circle cx="289.6" cy="771.8" r="4.1" fill="#d95f02"/><circle cx="300.3" cy="828.6" r="4.1" fill="#d95f02"/><circle cx="295.7" cy="785.9" r="4.1" fill="#7570b3"/><circle cx="305.0" cy="842.9" r="4.1" fill="#66a61e"/><circle cx="313.8" cy="774.0" r="4.1" fill="#7570b3"/><circle cx="299.5" cy="767.4" r="4.1" fill="#7570b3"/><circle cx="286.4" cy="855.5" r="4.1" fill="#d95f02"/><circle cx="219.8" cy="802.6" r="4.1" fill="#7570b3"/><circle cx="254.4" cy="810.4" r="4.1" fill="#d95f02"/><circle cx="211.6" cy="876.9" r="4.1" fill="#d95f02"/><circle cx="264.3" cy="780.6" r="4.1" fill="#7570b3"/><circle cx="211.2" cy="843.1" r="4.1" fill="#e7298a"/><circle cx="253.1" cy="799.1" r="4.1" fill="#d95f02"/><circle cx="274.2" cy="837.4" r="4.1" fill="#7570b3"/><circle cx="274.2" cy="844.0" r="4.1" fill="#d95f02"/><circle cx="257.5" cy="767.3" r="4.1" fill="#7570b3"/><circle cx="265.4" cy="822.0" r="4.1" fill="#7570b3"/><circle cx="206.1" cy="884.6" r="4.1" fill="#e7298a"/><circle cx="326.5" cy="806.0" r="4.1" fill="#d95f02"/><circle cx="318.0" cy="825.3" r="4.1" fill="#66a61e"/><circle cx="221.6" cy="863.2" r="4.1" fill="#d95f02"/><circle cx="298.0" cy="775.7" r="4.1" fill="#7570b3"/><circle cx="315.4" cy="846.5" r="4.1" fill="#66a61e"/><circle cx="217.8" cy="801.9" r="4.1" fill="#d95f02"/><circle cx="250.1" cy="800.4" r="4.1" fill="#e7298a"/><circle cx="254.5" cy="790.1" r="4.1" fill="#d95f02"/><circle cx="279.7" cy="864.8" r="4.1" fill="#d95f02"/><circle cx="248.1" cy="863.5" r="4.1" fill="#d95f02"/><circle cx="321.5" cy="803.8" r="4.1" fill="#d95f02"/><circle cx="272.0" cy="863.7" r="4.1" fill="#7570b3"/><circle cx="231.4" cy="766.4" r="4.1" fill="#7570b3"/><circle cx="254.5" cy="763.0" r="4.1" fill="#7570b3"/><circle cx="269.5" cy="764.0" r="4.1" fill="#7570b3"/><circle cx="187.5" cy="841.4" r="4.1" fill="#e7298a"/><circle cx="223.7" cy="859.3" r="4.1" fill="#d95f02"/><circle cx="296.2" cy="774.0" r="4.1" fill="#7570b3"/><circle cx="217.1" cy="786.1" r="4.1" fill="#d95f02"/><circle cx="256.7" cy="850.6" r="4.1" fill="#d95f02"/><circle cx="239.7" cy="816.5" r="4.1" fill="#d95f02"/><circle cx="270.9" cy="778.4" r="4.1" fill="#d95f02"/><circle cx="202.8" cy="881.3" r="4.1" fill="#e7298a"/><circle cx="293.5" cy="801.5" r="4.1" fill="#d95f02"/><circle cx="227.8" cy="798.0" r="4.1" fill="#d95f02"/><circle cx="244.3" cy="872.6" r="4.1" fill="#d95f02"/><circle cx="212.7" cy="869.2" r="4.1" fill="#d95f02"/><circle cx="199.5" cy="800.4" r="4.1" fill="#e7298a"/><circle cx="211.6" cy="819.1" r="4.1" fill="#e7298a"/><circle cx="263.3" cy="885.7" r="4.1" fill="#d95f02"/><circle cx="252.3" cy="828.6" r="4.1" fill="#d95f02"/><circle cx="208.2" cy="808.2" r="4.1" fill="#e7298a"/><circle cx="210.5" cy="894.5" r="4.1" fill="#e7298a"/><circle cx="291.2" cy="801.4" r="4.1" fill="#d95f02"/><circle cx="244.6" cy="861.9" r="4.1" fill="#d95f02"/><circle cx="274.3" cy="819.1" r="4.1" fill="#d95f02"/><circle cx="342.3" cy="812.5" r="4.1" fill="#d95f02"/><circle cx="188.3" cy="856.4" r="4.1" fill="#e7298a"/><circle cx="199.0" cy="816.6" r="4.1" fill="#7570b3"/><circle cx="305.6" cy="859.6" r="4.1" fill="#d95f02"/><circle cx="228.1" cy="803.7" r="4.1" fill="#d95f02"/><circle cx="254.4" cy="814.8" r="4.1" fill="#7570b3"/><circle cx="261.1" cy="857.1" r="4.1" fill="#d95f02"/><circle cx="283.0" cy="812.5" r="4.1" fill="#d95f02"/><circle cx="244.2" cy="776.5" r="4.1" fill="#7570b3"/><circle cx="191.9" cy="825.6" r="4.1" fill="#7570b3"/><circle cx="319.7" cy="785.4" r="4.1" fill="#7570b3"/><circle cx="279.5" cy="840.6" r="4.1" fill="#d95f02"/><circle cx="254.5" cy="887.9" r="4.1" fill="#e7298a"/><circle cx="285.4" cy="838.2" r="4.1" fill="#d95f02"/><circle cx="220.8" cy="793.4" r="4.1" fill="#d95f02"/><circle cx="225.9" cy="766.3" r="4.1" fill="#7570b3"/><circle cx="250.1" cy="778.4" r="4.1" fill="#7570b3"/><circle cx="232.7" cy="799.9" r="4.1" fill="#d95f02"/><circle cx="275.9" cy="796.4" r="4.1" fill="#7570b3"/><circle cx="250.1" cy="858.2" r="4.1" fill="#d95f02"/><circle cx="218.2" cy="776.2" r="4.1" fill="#7570b3"/><circle cx="289.6" cy="798.2" r="4.1" fill="#66a61e"/><circle cx="212.7" cy="849.5" r="4.1" fill="#e7298a"/><circle cx="186.4" cy="848.4" r="4.1" fill="#e7298a"/><circle cx="251.2" cy="786.6" r="4.1" fill="#7570b3"/><circle cx="220.4" cy="775.1" r="4.1" fill="#7570b3"/><circle cx="332.0" cy="820.8" r="4.1" fill="#d95f02"/><circle cx="307.6" cy="873.5" r="4.1" fill="#66a61e"/><circle cx="287.4" cy="908.8" r="4.1" fill="#d95f02"/><circle cx="209.1" cy="855.9" r="4.1" fill="#e7298a"/><circle cx="214.1" cy="862.6" r="4.1" fill="#d95f02"/><circle cx="179.8" cy="799.3" r="4.1" fill="#e7298a"/><circle cx="319.7" cy="814.0" r="4.1" fill="#d95f02"/><circle cx="247.9" cy="881.3" r="4.1" fill="#d95f02"/><circle cx="262.2" cy="764.1" r="4.1" fill="#7570b3"/><circle cx="269.8" cy="856.1" r="4.1" fill="#d95f02"/><circle cx="308.1" cy="841.3" r="4.1" fill="#d95f02"/><circle cx="188.2" cy="808.6" r="4.1" fill="#e7298a"/><circle cx="262.2" cy="833.0" r="4.1" fill="#66a61e"/><circle cx="194.1" cy="799.3" r="4.1" fill="#e7298a"/><circle cx="213.8" cy="770.7" r="4.1" fill="#7570b3"/><circle cx="309.0" cy="857.4" r="4.1" fill="#d95f02"/><circle cx="263.9" cy="866.6" r="4.1" fill="#d95f02"/><circle cx="223.7" cy="819.1" r="4.1" fill="#e7298a"/><circle cx="293.7" cy="828.9" r="4.1" fill="#66a61e"/><circle cx="202.8" cy="834.1" r="4.1" fill="#e7298a"/><circle cx="223.1" cy="802.9" r="4.1" fill="#d95f02"/><circle cx="210.5" cy="810.3" r="4.1" fill="#e7298a"/><circle cx="224.1" cy="834.6" r="4.1" fill="#e7298a"/><circle cx="300.6" cy="848.4" r="4.1" fill="#d95f02"/><circle cx="268.0" cy="785.6" r="4.1" fill="#d95f02"/><circle cx="326.1" cy="851.8" r="4.1" fill="#d95f02"/><circle cx="279.3" cy="844.2" r="4.1" fill="#d95f02"/><circle cx="274.2" cy="813.6" r="4.1" fill="#66a61e"/><circle cx="309.3" cy="770.7" r="4.1" fill="#7570b3"/><circle cx="283.0" cy="827.5" r="4.1" fill="#7570b3"/><circle cx="232.5" cy="850.6" r="4.1" fill="#7570b3"/><circle cx="217.1" cy="823.4" r="4.1" fill="#7570b3"/><circle cx="169.9" cy="848.4" r="4.1" fill="#e7298a"/><circle cx="302.8" cy="874.7" r="4.1" fill="#d95f02"/><circle cx="207.2" cy="804.8" r="4.1" fill="#e7298a"/><circle cx="199.1" cy="835.1" r="4.1" fill="#e7298a"/><circle cx="232.0" cy="820.6" r="4.1" fill="#7570b3"/><circle cx="207.2" cy="770.7" r="4.1" fill="#7570b3"/><circle cx="294.8" cy="798.8" r="4.1" fill="#d95f02"/><circle cx="264.0" cy="797.7" r="4.1" fill="#7570b3"/><circle cx="337.4" cy="806.1" r="4.1" fill="#d95f02"/><circle cx="318.2" cy="778.4" r="4.1" fill="#7570b3"/><circle cx="276.4" cy="759.7" r="4.1" fill="#7570b3"/><circle cx="256.8" cy="840.6" r="4.1" fill="#d95f02"/><circle cx="254.5" cy="818.0" r="4.1" fill="#7570b3"/><circle cx="305.0" cy="868.1" r="4.1" fill="#66a61e"/><circle cx="269.8" cy="780.6" r="4.1" fill="#66a61e"/><circle cx="316.0" cy="805.9" r="4.1" fill="#d95f02"/><circle cx="312.2" cy="825.6" r="4.1" fill="#66a61e"/><circle cx="313.8" cy="847.3" r="4.1" fill="#d95f02"/><circle cx="241.9" cy="876.9" r="4.1" fill="#d95f02"/><circle cx="298.4" cy="885.7" r="4.1" fill="#d95f02"/><circle cx="262.1" cy="844.1" r="4.1" fill="#d95f02"/><circle cx="263.3" cy="819.1" r="4.1" fill="#d95f02"/><circle cx="294.9" cy="790.3" r="4.1" fill="#d95f02"/><circle cx="234.7" cy="900.0" r="4.1" fill="#d95f02"/><circle cx="230.3" cy="818.1" r="4.1" fill="#e7298a"/><circle cx="224.0" cy="863.4" r="4.1" fill="#d95f02"/><circle cx="244.6" cy="804.8" r="4.1" fill="#7570b3"/><circle cx="261.1" cy="882.4" r="4.1" fill="#d95f02"/><circle cx="243.9" cy="737.8" r="4.1" fill="#7570b3"/><circle cx="320.4" cy="796.0" r="4.1" fill="#d95f02"/><circle cx="221.5" cy="872.5" r="4.1" fill="#e7298a"/><circle cx="248.3" cy="797.1" r="4.1" fill="#7570b3"/><circle cx="213.8" cy="747.7" r="4.1" fill="#7570b3"/><circle cx="323.2" cy="742.2" r="4.1" fill="#d95f02"/><circle cx="225.9" cy="844.0" r="4.1" fill="#d95f02"/><circle cx="236.9" cy="853.9" r="4.1" fill="#d95f02"/><circle cx="292.9" cy="825.3" r="4.1" fill="#66a61e"/><circle cx="274.2" cy="819.1" r="4.1" fill="#d95f02"/><circle cx="196.2" cy="863.7" r="4.1" fill="#e7298a"/><circle cx="289.6" cy="818.0" r="4.1" fill="#d95f02"/><circle cx="215.9" cy="837.0" r="4.1" fill="#d95f02"/><circle cx="313.8" cy="788.3" r="4.1" fill="#d95f02"/><circle cx="270.4" cy="794.5" r="4.1" fill="#7570b3"/><circle cx="230.3" cy="810.3" r="4.1" fill="#e7298a"/><circle cx="238.0" cy="770.7" r="4.1" fill="#7570b3"/><circle cx="189.2" cy="822.1" r="4.1" fill="#e7298a"/><circle cx="246.9" cy="771.3" r="4.1" fill="#7570b3"/><circle cx="321.5" cy="771.8" r="4.1" fill="#d95f02"/><circle cx="263.7" cy="827.6" r="4.1" fill="#d95f02"/><circle cx="296.2" cy="832.5" r="4.1" fill="#d95f02"/><circle cx="320.4" cy="787.2" r="4.1" fill="#d95f02"/><circle cx="221.5" cy="835.2" r="4.1" fill="#7570b3"/><circle cx="253.9" cy="804.3" r="4.1" fill="#7570b3"/><circle cx="251.1" cy="864.9" r="4.1" fill="#d95f02"/><circle cx="181.5" cy="796.2" r="4.1" fill="#e7298a"/><circle cx="200.6" cy="858.2" r="4.1" fill="#e7298a"/><circle cx="241.3" cy="860.4" r="4.1" fill="#d95f02"/><circle cx="235.8" cy="821.3" r="4.1" fill="#7570b3"/><circle cx="191.2" cy="810.4" r="4.1" fill="#e7298a"/><circle cx="276.4" cy="873.6" r="4.1" fill="#d95f02"/><circle cx="190.8" cy="835.2" r="4.1" fill="#e7298a"/><circle cx="319.4" cy="851.2" r="4.1" fill="#d95f02"/><circle cx="218.4" cy="840.4" r="4.1" fill="#e7298a"/><circle cx="296.2" cy="812.5" r="4.1" fill="#d95f02"/><circle cx="257.2" cy="834.6" r="4.1" fill="#d95f02"/><circle cx="207.2" cy="750.5" r="4.1" fill="#7570b3"/><circle cx="222.2" cy="753.1" r="4.1" fill="#7570b3"/><circle cx="199.5" cy="820.2" r="4.1" fill="#e7298a"/><circle cx="283.0" cy="840.7" r="4.1" fill="#d95f02"/><circle cx="274.2" cy="776.2" r="4.1" fill="#d95f02"/><circle cx="308.2" cy="858.4" r="4.1" fill="#66a61e"/><circle cx="302.6" cy="773.4" r="4.1" fill="#7570b3"/><circle cx="286.2" cy="830.0" r="4.1" fill="#d95f02"/><circle cx="248.4" cy="781.6" r="4.1" fill="#7570b3"/><circle cx="223.0" cy="854.2" r="4.1" fill="#d95f02"/><circle cx="290.7" cy="904.4" r="4.1" fill="#d95f02"/><circle cx="181.1" cy="803.0" r="4.1" fill="#e7298a"/><circle cx="343.4" cy="890.8" r="4.1" fill="#d95f02"/><circle cx="292.9" cy="852.1" r="4.1" fill="#d95f02"/><circle cx="327.0" cy="787.2" r="4.1" fill="#d95f02"/><circle cx="321.7" cy="843.1" r="4.1" fill="#66a61e"/><circle cx="242.4" cy="759.7" r="4.1" fill="#7570b3"/><circle cx="189.4" cy="831.4" r="4.1" fill="#e7298a"/><circle cx="282.2" cy="789.8" r="4.1" fill="#d95f02"/><circle cx="311.6" cy="796.0" r="4.1" fill="#7570b3"/><circle cx="245.3" cy="834.6" r="4.1" fill="#d95f02"/><circle cx="272.0" cy="891.2" r="4.1" fill="#d95f02"/><circle cx="187.2" cy="837.4" r="4.1" fill="#e7298a"/><circle cx="285.2" cy="820.6" r="4.1" fill="#d95f02"/><circle cx="288.3" cy="844.9" r="4.1" fill="#d95f02"/><circle cx="310.3" cy="794.2" r="4.1" fill="#7570b3"/><circle cx="309.4" cy="828.6" r="4.1" fill="#d95f02"/><circle cx="279.3" cy="818.7" r="4.1" fill="#d95f02"/><circle cx="283.0" cy="771.8" r="4.1" fill="#7570b3"/><circle cx="284.7" cy="795.8" r="4.1" fill="#d95f02"/><circle cx="235.8" cy="810.3" r="4.1" fill="#d95f02"/><circle cx="340.1" cy="852.8" r="4.1" fill="#d95f02"/><circle cx="220.8" cy="819.3" r="4.1" fill="#d95f02"/><circle cx="258.9" cy="808.1" r="4.1" fill="#7570b3"/><circle cx="197.3" cy="822.0" r="4.1" fill="#e7298a"/><circle cx="256.9" cy="832.2" r="4.1" fill="#d95f02"/><circle cx="230.4" cy="800.0" r="4.1" fill="#d95f02"/><circle cx="319.8" cy="790.8" r="4.1" fill="#d95f02"/><circle cx="296.6" cy="863.7" r="4.1" fill="#d95f02"/><circle cx="312.7" cy="826.4" r="4.1" fill="#d95f02"/><circle cx="292.8" cy="872.8" r="4.1" fill="#d95f02"/><circle cx="321.5" cy="811.4" r="4.1" fill="#d95f02"/><circle cx="294.0" cy="852.8" r="4.1" fill="#d95f02"/><circle cx="267.6" cy="770.7" r="4.1" fill="#7570b3"/><circle cx="247.9" cy="814.7" r="4.1" fill="#d95f02"/><circle cx="210.9" cy="823.9" r="4.1" fill="#d95f02"/><circle cx="300.6" cy="786.9" r="4.1" fill="#66a61e"/><circle cx="309.4" cy="814.7" r="4.1" fill="#d95f02"/><circle cx="190.7" cy="828.1" r="4.1" fill="#e7298a"/><circle cx="193.7" cy="846.7" r="4.1" fill="#e7298a"/><circle cx="229.8" cy="818.0" r="4.1" fill="#e7298a"/><circle cx="256.7" cy="834.1" r="4.1" fill="#e7298a"/><circle cx="274.2" cy="800.4" r="4.1" fill="#d95f02"/><circle cx="266.5" cy="868.1" r="4.1" fill="#d95f02"/><circle cx="327.7" cy="853.7" r="4.1" fill="#d95f02"/><circle cx="221.5" cy="801.4" r="4.1" fill="#7570b3"/><circle cx="257.9" cy="871.4" r="4.1" fill="#d95f02"/><circle cx="193.4" cy="868.4" r="4.1" fill="#e7298a"/><circle cx="316.0" cy="844.0" r="4.1" fill="#66a61e"/><circle cx="269.3" cy="791.6" r="4.1" fill="#7570b3"/><circle cx="191.9" cy="827.5" r="4.1" fill="#7570b3"/><circle cx="293.1" cy="873.4" r="4.1" fill="#d95f02"/><circle cx="290.4" cy="854.0" r="4.1" fill="#d95f02"/><circle cx="319.0" cy="808.7" r="4.1" fill="#d95f02"/><circle cx="207.3" cy="821.2" r="4.1" fill="#e7298a"/><circle cx="225.9" cy="824.5" r="4.1" fill="#d95f02"/><circle cx="213.8" cy="802.6" r="4.1" fill="#e7298a"/><circle cx="331.4" cy="824.5" r="4.1" fill="#d95f02"/><circle cx="253.7" cy="794.1" r="4.1" fill="#d95f02"/><circle cx="269.8" cy="765.2" r="4.1" fill="#d95f02"/><circle cx="242.4" cy="904.4" r="4.1" fill="#d95f02"/><circle cx="256.7" cy="783.9" r="4.1" fill="#d95f02"/><circle cx="224.6" cy="839.0" r="4.1" fill="#e7298a"/><circle cx="231.4" cy="769.6" r="4.1" fill="#7570b3"/><circle cx="200.3" cy="840.9" r="4.1" fill="#e7298a"/><circle cx="222.3" cy="856.8" r="4.1" fill="#d95f02"/><circle cx="239.4" cy="773.4" r="4.1" fill="#d95f02"/><circle cx="240.8" cy="776.7" r="4.1" fill="#7570b3"/><circle cx="250.2" cy="782.7" r="4.1" fill="#7570b3"/><circle cx="326.1" cy="779.0" r="4.1" fill="#d95f02"/><circle cx="224.6" cy="800.1" r="4.1" fill="#7570b3"/><circle cx="198.4" cy="817.2" r="4.1" fill="#7570b3"/><circle cx="212.3" cy="849.3" r="4.1" fill="#d95f02"/><circle cx="322.6" cy="808.1" r="4.1" fill="#d95f02"/><circle cx="232.9" cy="803.5" r="4.1" fill="#d95f02"/><circle cx="292.1" cy="803.3" r="4.1" fill="#d95f02"/><circle cx="200.8" cy="857.6" r="4.1" fill="#e7298a"/><circle cx="281.7" cy="825.0" r="4.1" fill="#7570b3"/><circle cx="327.0" cy="837.4" r="4.1" fill="#d95f02"/><circle cx="236.9" cy="872.5" r="4.1" fill="#e7298a"/><circle cx="216.0" cy="841.8" r="4.1" fill="#d95f02"/><circle cx="208.1" cy="854.3" r="4.1" fill="#d95f02"/><circle cx="276.4" cy="761.9" r="4.1" fill="#d95f02"/><circle cx="265.4" cy="810.3" r="4.1" fill="#7570b3"/><circle cx="249.0" cy="790.5" r="4.1" fill="#d95f02"/><circle cx="200.3" cy="830.7" r="4.1" fill="#e7298a"/><circle cx="251.8" cy="781.3" r="4.1" fill="#d95f02"/><circle cx="275.9" cy="861.8" r="4.1" fill="#d95f02"/><circle cx="219.0" cy="815.7" r="4.1" fill="#7570b3"/><circle cx="208.5" cy="835.9" r="4.1" fill="#e7298a"/><circle cx="225.5" cy="845.6" r="4.1" fill="#d95f02"/><circle cx="229.4" cy="807.2" r="4.1" fill="#e7298a"/><circle cx="232.5" cy="789.4" r="4.1" fill="#e7298a"/><circle cx="226.8" cy="777.5" r="4.1" fill="#d95f02"/><circle cx="210.6" cy="817.5" r="4.1" fill="#7570b3"/><circle cx="300.6" cy="785.5" r="4.1" fill="#d95f02"/><circle cx="250.1" cy="769.6" r="4.1" fill="#d95f02"/><circle cx="290.7" cy="867.0" r="4.1" fill="#e7298a"/><circle cx="252.1" cy="778.6" r="4.1" fill="#d95f02"/><circle cx="337.9" cy="821.3" r="4.1" fill="#66a61e"/><circle cx="232.5" cy="803.7" r="4.1" fill="#7570b3"/><circle cx="295.1" cy="804.8" r="4.1" fill="#d95f02"/><circle cx="301.7" cy="917.6" r="4.1" fill="#d95f02"/><circle cx="300.6" cy="905.5" r="4.1" fill="#d95f02"/><circle cx="193.2" cy="801.1" r="4.1" fill="#e7298a"/><circle cx="327.0" cy="903.7" r="4.1" fill="#d95f02"/><circle cx="210.5" cy="891.2" r="4.1" fill="#e7298a"/><circle cx="228.1" cy="837.4" r="4.1" fill="#7570b3"/><circle cx="234.7" cy="818.0" r="4.1" fill="#e7298a"/><circle cx="238.1" cy="813.2" r="4.1" fill="#d95f02"/><circle cx="287.7" cy="815.2" r="4.1" fill="#d95f02"/><circle cx="264.3" cy="795.3" r="4.1" fill="#e7298a"/><circle cx="247.8" cy="782.0" r="4.1" fill="#7570b3"/><circle cx="300.0" cy="795.7" r="4.1" fill="#7570b3"/><circle cx="247.9" cy="846.2" r="4.1" fill="#d95f02"/><circle cx="235.7" cy="830.9" r="4.1" fill="#d95f02"/><circle cx="269.7" cy="782.2" r="4.1" fill="#d95f02"/><circle cx="206.1" cy="790.5" r="4.1" fill="#7570b3"/><circle cx="233.6" cy="765.2" r="4.1" fill="#7570b3"/><circle cx="239.0" cy="866.7" r="4.1" fill="#d95f02"/><circle cx="316.0" cy="828.6" r="4.1" fill="#d95f02"/><circle cx="340.1" cy="815.8" r="4.1" fill="#7570b3"/><circle cx="251.1" cy="777.4" r="4.1" fill="#d95f02"/><circle cx="209.2" cy="867.9" r="4.1" fill="#e7298a"/><circle cx="231.4" cy="791.7" r="4.1" fill="#d95f02"/><circle cx="253.4" cy="727.9" r="4.1" fill="#7570b3"/><circle cx="197.7" cy="827.7" r="4.1" fill="#e7298a"/><circle cx="327.0" cy="779.5" r="4.1" fill="#7570b3"/><circle cx="210.5" cy="860.0" r="4.1" fill="#d95f02"/><circle cx="191.9" cy="882.4" r="4.1" fill="#e7298a"/><circle cx="203.9" cy="824.5" r="4.1" fill="#7570b3"/><circle cx="206.6" cy="825.4" r="4.1" fill="#7570b3"/><circle cx="285.2" cy="870.3" r="4.1" fill="#d95f02"/><circle cx="224.8" cy="779.8" r="4.1" fill="#7570b3"/><circle cx="222.6" cy="785.0" r="4.1" fill="#7570b3"/><circle cx="236.9" cy="801.8" r="4.1" fill="#7570b3"/><circle cx="247.9" cy="812.5" r="4.1" fill="#e7298a"/><circle cx="240.0" cy="856.0" r="4.1" fill="#d95f02"/><circle cx="298.9" cy="800.1" r="4.1" fill="#d95f02"/><circle cx="292.3" cy="827.8" r="4.1" fill="#66a61e"/><circle cx="321.5" cy="818.0" r="4.1" fill="#7570b3"/><circle cx="337.9" cy="848.4" r="4.1" fill="#d95f02"/><circle cx="362.1" cy="864.8" r="4.1" fill="#d95f02"/><circle cx="328.5" cy="842.9" r="4.1" fill="#d95f02"/><circle cx="225.9" cy="833.4" r="4.1" fill="#d95f02"/><circle cx="298.4" cy="791.6" r="4.1" fill="#66a61e"/><circle cx="193.0" cy="838.5" r="4.1" fill="#e7298a"/><circle cx="244.6" cy="781.7" r="4.1" fill="#7570b3"/><circle cx="294.6" cy="847.5" r="4.1" fill="#d95f02"/><circle cx="291.3" cy="831.2" r="4.1" fill="#d95f02"/><circle cx="206.4" cy="865.8" r="4.1" fill="#e7298a"/><circle cx="242.9" cy="852.3" r="4.1" fill="#d95f02"/><circle cx="230.5" cy="814.5" r="4.1" fill="#d95f02"/><circle cx="219.3" cy="852.8" r="4.1" fill="#7570b3"/><circle cx="239.1" cy="813.6" r="4.1" fill="#d95f02"/><circle cx="256.9" cy="790.6" r="4.1" fill="#d95f02"/><circle cx="320.5" cy="814.9" r="4.1" fill="#d95f02"/><circle cx="236.9" cy="830.8" r="4.1" fill="#d95f02"/><circle cx="320.4" cy="852.2" r="4.1" fill="#d95f02"/><circle cx="225.9" cy="863.7" r="4.1" fill="#e7298a"/><circle cx="303.5" cy="845.6" r="4.1" fill="#66a61e"/><circle cx="316.0" cy="740.0" r="4.1" fill="#7570b3"/><circle cx="225.9" cy="786.1" r="4.1" fill="#d95f02"/><circle cx="243.5" cy="768.5" r="4.1" fill="#d95f02"/><circle cx="257.3" cy="794.2" r="4.1" fill="#7570b3"/><circle cx="266.8" cy="775.1" r="4.1" fill="#d95f02"/><circle cx="308.3" cy="917.6" r="4.1" fill="#d95f02"/><circle cx="229.2" cy="753.6" r="4.1" fill="#7570b3"/><circle cx="263.5" cy="785.4" r="4.1" fill="#7570b3"/><circle cx="272.9" cy="802.3" r="4.1" fill="#d95f02"/><circle cx="235.3" cy="874.0" r="4.1" fill="#d95f02"/><circle cx="252.1" cy="877.7" r="4.1" fill="#d95f02"/><circle cx="245.5" cy="785.2" r="4.1" fill="#7570b3"/><circle cx="311.6" cy="805.9" r="4.1" fill="#7570b3"/><circle cx="287.4" cy="845.1" r="4.1" fill="#e7298a"/><circle cx="262.8" cy="830.6" r="4.1" fill="#7570b3"/><circle cx="265.4" cy="846.2" r="4.1" fill="#d95f02"/><circle cx="304.6" cy="776.9" r="4.1" fill="#66a61e"/><circle cx="322.6" cy="841.8" r="4.1" fill="#d95f02"/><circle cx="283.0" cy="852.8" r="4.1" fill="#d95f02"/><circle cx="256.0" cy="842.7" r="4.1" fill="#d95f02"/><circle cx="275.3" cy="914.3" r="4.1" fill="#e7298a"/><circle cx="283.3" cy="867.9" r="4.1" fill="#d95f02"/><circle cx="243.5" cy="876.9" r="4.1" fill="#d95f02"/><circle cx="279.7" cy="833.0" r="4.1" fill="#7570b3"/><circle cx="336.8" cy="780.6" r="4.1" fill="#d95f02"/><circle cx="249.6" cy="771.7" r="4.1" fill="#d95f02"/><circle cx="210.5" cy="857.1" r="4.1" fill="#d95f02"/><circle cx="204.5" cy="868.6" r="4.1" fill="#e7298a"/><circle cx="236.4" cy="793.7" r="4.1" fill="#7570b3"/><circle cx="224.2" cy="845.9" r="4.1" fill="#e7298a"/><circle cx="185.3" cy="855.0" r="4.1" fill="#e7298a"/><circle cx="322.6" cy="849.5" r="4.1" fill="#d95f02"/><circle cx="331.4" cy="856.1" r="4.1" fill="#d95f02"/><circle cx="306.1" cy="882.4" r="4.1" fill="#66a61e"/><circle cx="324.4" cy="806.7" r="4.1" fill="#d95f02"/><circle cx="230.3" cy="860.4" r="4.1" fill="#7570b3"/><circle cx="220.6" cy="812.0" r="4.1" fill="#e7298a"/><circle cx="284.5" cy="839.9" r="4.1" fill="#d95f02"/><circle cx="253.8" cy="799.4" r="4.1" fill="#7570b3"/><circle cx="200.9" cy="834.3" r="4.1" fill="#e7298a"/><circle cx="307.5" cy="880.3" r="4.1" fill="#d95f02"/><circle cx="313.8" cy="849.6" r="4.1" fill="#66a61e"/><circle cx="322.7" cy="811.3" r="4.1" fill="#d95f02"/><circle cx="307.9" cy="775.9" r="4.1" fill="#7570b3"/><circle cx="357.7" cy="833.0" r="4.1" fill="#d95f02"/><circle cx="288.5" cy="889.0" r="4.1" fill="#d95f02"/><circle cx="279.7" cy="763.0" r="4.1" fill="#7570b3"/><circle cx="257.8" cy="825.6" r="4.1" fill="#d95f02"/><circle cx="239.1" cy="886.8" r="4.1" fill="#e7298a"/><circle cx="291.8" cy="845.1" r="4.1" fill="#d95f02"/><circle cx="241.9" cy="824.6" r="4.1" fill="#d95f02"/><circle cx="239.1" cy="786.1" r="4.1" fill="#d95f02"/><circle cx="323.7" cy="868.1" r="4.1" fill="#66a61e"/><circle cx="207.0" cy="809.5" r="4.1" fill="#e7298a"/><circle cx="326.5" cy="800.9" r="4.1" fill="#d95f02"/><circle cx="325.8" cy="851.1" r="4.1" fill="#66a61e"/><circle cx="302.8" cy="799.3" r="4.1" fill="#d95f02"/><circle cx="263.3" cy="824.0" r="4.1" fill="#d95f02"/><circle cx="326.8" cy="857.8" r="4.1" fill="#66a61e"/><circle cx="296.2" cy="785.0" r="4.1" fill="#7570b3"/><circle cx="279.7" cy="772.9" r="4.1" fill="#7570b3"/><circle cx="322.6" cy="836.2" r="4.1" fill="#d95f02"/><circle cx="220.3" cy="790.6" r="4.1" fill="#d95f02"/><circle cx="262.2" cy="902.2" r="4.1" fill="#d95f02"/><circle cx="298.4" cy="774.0" r="4.1" fill="#d95f02"/><circle cx="289.6" cy="835.2" r="4.1" fill="#66a61e"/><circle cx="198.4" cy="793.8" r="4.1" fill="#7570b3"/><circle cx="255.6" cy="894.5" r="4.1" fill="#d95f02"/><circle cx="213.8" cy="793.8" r="4.1" fill="#e7298a"/><circle cx="253.7" cy="801.1" r="4.1" fill="#d95f02"/><circle cx="193.8" cy="860.2" r="4.1" fill="#e7298a"/><circle cx="275.8" cy="882.6" r="4.1" fill="#d95f02"/><circle cx="344.5" cy="824.2" r="4.1" fill="#d95f02"/><circle cx="307.8" cy="845.3" r="4.1" fill="#d95f02"/><circle cx="302.8" cy="818.0" r="4.1" fill="#d95f02"/><circle cx="201.4" cy="821.5" r="4.1" fill="#e7298a"/><circle cx="203.9" cy="813.6" r="4.1" fill="#e7298a"/><circle cx="324.9" cy="863.4" r="4.1" fill="#66a61e"/><circle cx="230.2" cy="845.0" r="4.1" fill="#d95f02"/><circle cx="234.4" cy="828.3" r="4.1" fill="#d95f02"/><circle cx="264.7" cy="829.4" r="4.1" fill="#d95f02"/><circle cx="252.3" cy="801.5" r="4.1" fill="#7570b3"/><circle cx="216.4" cy="796.6" r="4.1" fill="#d95f02"/><circle cx="261.1" cy="769.6" r="4.1" fill="#7570b3"/><circle cx="313.8" cy="857.1" r="4.1" fill="#d95f02"/><circle cx="205.0" cy="922.6" r="4.1" fill="#d95f02"/><circle cx="258.6" cy="775.9" r="4.1" fill="#7570b3"/><circle cx="220.1" cy="840.9" r="4.1" fill="#e7298a"/><circle cx="333.6" cy="862.1" r="4.1" fill="#d95f02"/><circle cx="251.4" cy="798.5" r="4.1" fill="#7570b3"/><circle cx="291.8" cy="824.5" r="4.1" fill="#66a61e"/><circle cx="230.5" cy="852.7" r="4.1" fill="#d95f02"/><circle cx="281.9" cy="808.1" r="4.1" fill="#66a61e"/><circle cx="222.6" cy="794.9" r="4.1" fill="#7570b3"/><circle cx="211.7" cy="847.7" r="4.1" fill="#d95f02"/><circle cx="305.0" cy="782.8" r="4.1" fill="#d95f02"/><circle cx="249.0" cy="865.9" r="4.1" fill="#d95f02"/><circle cx="233.0" cy="816.1" r="4.1" fill="#d95f02"/><circle cx="344.5" cy="823.4" r="4.1" fill="#d95f02"/><circle cx="264.3" cy="839.6" r="4.1" fill="#e7298a"/><circle cx="239.7" cy="845.2" r="4.1" fill="#d95f02"/><circle cx="223.3" cy="846.6" r="4.1" fill="#d95f02"/><circle cx="201.2" cy="828.3" r="4.1" fill="#e7298a"/><circle cx="259.2" cy="872.8" r="4.1" fill="#d95f02"/><circle cx="313.8" cy="801.5" r="4.1" fill="#7570b3"/><circle cx="249.5" cy="779.9" r="4.1" fill="#7570b3"/><circle cx="277.2" cy="851.9" r="4.1" fill="#d95f02"/><circle cx="302.3" cy="875.6" r="4.1" fill="#d95f02"/><circle cx="332.0" cy="767.4" r="4.1" fill="#66a61e"/><circle cx="311.6" cy="861.5" r="4.1" fill="#66a61e"/><circle cx="262.7" cy="773.9" r="4.1" fill="#7570b3"/><circle cx="255.6" cy="791.6" r="4.1" fill="#d95f02"/><circle cx="296.2" cy="837.4" r="4.1" fill="#d95f02"/><circle cx="239.1" cy="892.3" r="4.1" fill="#d95f02"/><circle cx="191.7" cy="840.3" r="4.1" fill="#e7298a"/><circle cx="254.9" cy="888.8" r="4.1" fill="#d95f02"/><circle cx="309.4" cy="889.0" r="4.1" fill="#d95f02"/><circle cx="221.5" cy="802.6" r="4.1" fill="#d95f02"/><circle cx="244.3" cy="793.6" r="4.1" fill="#d95f02"/><circle cx="221.5" cy="882.4" r="4.1" fill="#d95f02"/><circle cx="227.0" cy="883.4" r="4.1" fill="#d95f02"/><circle cx="272.2" cy="816.9" r="4.1" fill="#d95f02"/><circle cx="281.6" cy="784.3" r="4.1" fill="#d95f02"/><circle cx="295.3" cy="793.6" r="4.1" fill="#7570b3"/><circle cx="308.5" cy="800.4" r="4.1" fill="#d95f02"/><circle cx="286.3" cy="783.9" r="4.1" fill="#7570b3"/><circle cx="221.9" cy="798.1" r="4.1" fill="#d95f02"/><circle cx="287.4" cy="789.4" r="4.1" fill="#7570b3"/><circle cx="323.7" cy="863.4" r="4.1" fill="#d95f02"/><circle cx="220.7" cy="821.6" r="4.1" fill="#d95f02"/><circle cx="303.4" cy="864.1" r="4.1" fill="#66a61e"/><circle cx="245.7" cy="835.2" r="4.1" fill="#d95f02"/><circle cx="303.8" cy="869.4" r="4.1" fill="#66a61e"/><circle cx="216.1" cy="826.6" r="4.1" fill="#d95f02"/><circle cx="279.7" cy="801.5" r="4.1" fill="#66a61e"/><circle cx="295.4" cy="775.1" r="4.1" fill="#d95f02"/><circle cx="318.2" cy="819.1" r="4.1" fill="#7570b3"/><circle cx="309.1" cy="794.6" r="4.1" fill="#66a61e"/><circle cx="333.5" cy="821.7" r="4.1" fill="#d95f02"/><circle cx="197.3" cy="812.5" r="4.1" fill="#e7298a"/><circle cx="294.1" cy="831.0" r="4.1" fill="#d95f02"/><circle cx="281.9" cy="803.7" r="4.1" fill="#d95f02"/><circle cx="323.5" cy="846.8" r="4.1" fill="#d95f02"/><circle cx="331.0" cy="819.2" r="4.1" fill="#66a61e"/><circle cx="317.2" cy="777.2" r="4.1" fill="#d95f02"/><circle cx="212.0" cy="808.4" r="4.1" fill="#7570b3"/><circle cx="302.8" cy="855.0" r="4.1" fill="#d95f02"/><circle cx="278.6" cy="787.2" r="4.1" fill="#d95f02"/><circle cx="307.2" cy="768.5" r="4.1" fill="#d95f02"/><circle cx="269.8" cy="814.7" r="4.1" fill="#7570b3"/><circle cx="296.2" cy="873.6" r="4.1" fill="#d95f02"/><circle cx="300.6" cy="801.5" r="4.1" fill="#7570b3"/><circle cx="175.4" cy="786.1" r="4.1" fill="#e7298a"/><circle cx="243.5" cy="841.8" r="4.1" fill="#7570b3"/><circle cx="316.0" cy="879.1" r="4.1" fill="#d95f02"/><circle cx="235.4" cy="819.8" r="4.1" fill="#7570b3"/><circle cx="214.9" cy="826.4" r="4.1" fill="#7570b3"/><circle cx="193.0" cy="858.2" r="4.1" fill="#e7298a"/><circle cx="325.5" cy="786.7" r="4.1" fill="#7570b3"/><circle cx="303.9" cy="911.0" r="4.1" fill="#d95f02"/><circle cx="298.4" cy="826.4" r="4.1" fill="#7570b3"/><circle cx="174.3" cy="903.7" r="4.1" fill="#e7298a"/><circle cx="230.3" cy="892.3" r="4.1" fill="#e7298a"/><circle cx="206.2" cy="793.1" r="4.1" fill="#7570b3"/><circle cx="243.5" cy="796.0" r="4.1" fill="#7570b3"/><circle cx="230.3" cy="879.1" r="4.1" fill="#d95f02"/><circle cx="290.7" cy="876.9" r="4.1" fill="#66a61e"/><circle cx="207.2" cy="827.5" r="4.1" fill="#7570b3"/><circle cx="222.9" cy="841.7" r="4.1" fill="#d95f02"/><circle cx="214.2" cy="771.2" r="4.1" fill="#7570b3"/><circle cx="276.3" cy="793.3" r="4.1" fill="#7570b3"/><circle cx="291.8" cy="807.0" r="4.1" fill="#7570b3"/><circle cx="275.3" cy="819.7" r="4.1" fill="#d95f02"/><circle cx="336.8" cy="794.9" r="4.1" fill="#d95f02"/><circle cx="289.0" cy="835.4" r="4.1" fill="#d95f02"/></g>
<g><circle cx="604.1" cy="822.2" r="4.1" fill="#7570b3"/><circle cx="604.1" cy="823.3" r="4.1" fill="#7570b3"/><circle cx="616.6" cy="830.9" r="4.1" fill="#7570b3"/><circle cx="569.6" cy="846.2" r="4.1" fill="#7570b3"/><circle cx="591.9" cy="843.0" r="4.1" fill="#7570b3"/><circle cx="604.1" cy="839.7" r="4.1" fill="#7570b3"/><circle cx="604.6" cy="846.2" r="4.1" fill="#7570b3"/><circle cx="618.8" cy="849.5" r="4.1" fill="#7570b3"/><circle cx="596.9" cy="856.1" r="4.1" fill="#7570b3"/><circle cx="628.0" cy="859.4" r="4.1" fill="#7570b3"/><circle cx="587.1" cy="862.6" r="4.1" fill="#7570b3"/><circle cx="584.9" cy="867.0" r="4.1" fill="#7570b3"/><circle cx="610.0" cy="864.8" r="4.1" fill="#7570b3"/><circle cx="602.4" cy="869.2" r="4.1" fill="#7570b3"/><circle cx="619.9" cy="868.1" r="4.1" fill="#7570b3"/><circle cx="623.2" cy="868.1" r="4.1" fill="#7570b3"/><circle cx="567.4" cy="875.8" r="4.1" fill="#7570b3"/><circle cx="572.9" cy="877.9" r="4.1" fill="#7570b3"/><circle cx="578.3" cy="877.9" r="4.1" fill="#7570b3"/><circle cx="577.2" cy="881.2" r="4.1" fill="#7570b3"/><circle cx="591.9" cy="876.4" r="4.1" fill="#7570b3"/><circle cx="602.4" cy="874.7" r="4.1" fill="#7570b3"/><circle cx="606.8" cy="876.9" r="4.1" fill="#7570b3"/><circle cx="602.4" cy="883.4" r="4.1" fill="#7570b3"/><circle cx="629.7" cy="879.0" r="4.1" fill="#7570b3"/><circle cx="628.6" cy="882.3" r="4.1" fill="#7570b3"/><circle cx="553.2" cy="881.9" r="4.1" fill="#7570b3"/><circle cx="575.0" cy="890.0" r="4.1" fill="#7570b3"/><circle cx="581.6" cy="893.3" r="4.1" fill="#7570b3"/><circle cx="583.8" cy="895.4" r="4.1" fill="#7570b3"/><circle cx="591.9" cy="897.6" r="4.1" fill="#7570b3"/><circle cx="600.2" cy="893.3" r="4.1" fill="#7570b3"/><circle cx="604.6" cy="898.7" r="4.1" fill="#7570b3"/><circle cx="602.4" cy="904.2" r="4.1" fill="#7570b3"/><circle cx="612.2" cy="884.5" r="4.1" fill="#7570b3"/><circle cx="613.3" cy="890.0" r="4.1" fill="#7570b3"/><circle cx="618.8" cy="892.2" r="4.1" fill="#7570b3"/><circle cx="624.2" cy="892.2" r="4.1" fill="#7570b3"/><circle cx="630.8" cy="894.3" r="4.1" fill="#7570b3"/><circle cx="629.7" cy="898.7" r="4.1" fill="#7570b3"/><circle cx="615.5" cy="903.1" r="4.1" fill="#7570b3"/><circle cx="622.1" cy="905.3" r="4.1" fill="#7570b3"/><circle cx="626.4" cy="907.5" r="4.1" fill="#7570b3"/><circle cx="630.8" cy="909.7" r="4.1" fill="#7570b3"/><circle cx="633.0" cy="914.0" r="4.1" fill="#7570b3"/><circle cx="635.2" cy="918.4" r="4.1" fill="#7570b3"/><circle cx="636.3" cy="920.6" r="4.1" fill="#7570b3"/><circle cx="608.9" cy="909.7" r="4.1" fill="#7570b3"/><circle cx="617.7" cy="911.8" r="4.1" fill="#7570b3"/><circle cx="624.2" cy="912.9" r="4.1" fill="#7570b3"/><circle cx="626.4" cy="916.2" r="4.1" fill="#7570b3"/><circle cx="619.9" cy="907.5" r="4.1" fill="#7570b3"/><circle cx="613.3" cy="898.7" r="4.1" fill="#7570b3"/><circle cx="622.7" cy="907.7" r="4.1" fill="#7570b3"/><circle cx="630.5" cy="895.3" r="4.1" fill="#7570b3"/><circle cx="625.2" cy="907.2" r="4.1" fill="#7570b3"/><circle cx="621.3" cy="901.2" r="4.1" fill="#7570b3"/><circle cx="614.1" cy="896.4" r="4.1" fill="#7570b3"/><circle cx="623.8" cy="911.3" r="4.1" fill="#7570b3"/><circle cx="613.6" cy="893.1" r="4.1" fill="#7570b3"/><circle cx="633.0" cy="911.8" r="4.1" fill="#7570b3"/><circle cx="608.5" cy="896.9" r="4.1" fill="#7570b3"/><circle cx="612.3" cy="895.1" r="4.1" fill="#7570b3"/><circle cx="614.2" cy="899.4" r="4.1" fill="#7570b3"/><circle cx="610.4" cy="889.5" r="4.1" fill="#7570b3"/><circle cx="628.3" cy="905.2" r="4.1" fill="#7570b3"/><circle cx="608.5" cy="890.8" r="4.1" fill="#7570b3"/><circle cx="611.0" cy="892.3" r="4.1" fill="#7570b3"/><circle cx="625.3" cy="901.6" r="4.1" fill="#7570b3"/><circle cx="619.6" cy="898.1" r="4.1" fill="#7570b3"/><circle cx="621.7" cy="913.1" r="4.1" fill="#7570b3"/><circle cx="614.3" cy="888.1" r="4.1" fill="#7570b3"/><circle cx="626.8" cy="891.3" r="4.1" fill="#7570b3"/><circle cx="620.3" cy="907.0" r="4.1" fill="#7570b3"/><circle cx="619.2" cy="900.4" r="4.1" fill="#7570b3"/><circle cx="620.6" cy="894.7" r="4.1" fill="#7570b3"/><circle cx="624.3" cy="895.6" r="4.1" fill="#7570b3"/><circle cx="633.9" cy="916.0" r="4.1" fill="#7570b3"/><circle cx="528.0" cy="785.0" r="4.1" fill="#d95f02"/><circle cx="541.2" cy="790.0" r="4.1" fill="#d95f02"/><circle cx="541.6" cy="803.6" r="4.1" fill="#d95f02"/><circle cx="553.6" cy="801.4" r="4.1" fill="#d95f02"/><circle cx="556.0" cy="806.8" r="4.1" fill="#d95f02"/><circle cx="521.0" cy="801.8" r="4.1" fill="#d95f02"/><circle cx="523.7" cy="809.5" r="4.1" fill="#d95f02"/><circle cx="526.9" cy="816.7" r="4.1" fill="#d95f02"/><circle cx="513.8" cy="811.9" r="4.1" fill="#d95f02"/><circle cx="502.9" cy="811.2" r="4.1" fill="#d95f02"/><circle cx="497.4" cy="815.6" r="4.1" fill="#d95f02"/><circle cx="487.6" cy="814.5" r="4.1" fill="#d95f02"/><circle cx="482.1" cy="817.8" r="4.1" fill="#d95f02"/><circle cx="473.4" cy="821.1" r="4.1" fill="#d95f02"/><circle cx="465.7" cy="823.2" r="4.1" fill="#d95f02"/><circle cx="535.7" cy="822.2" r="4.1" fill="#d95f02"/><circle cx="495.9" cy="828.3" r="4.1" fill="#d95f02"/><circle cx="509.4" cy="822.2" r="4.1" fill="#d95f02"/><circle cx="526.9" cy="825.5" r="4.1" fill="#d95f02"/><circle cx="535.7" cy="823.3" r="4.1" fill="#d95f02"/><circle cx="519.3" cy="832.0" r="4.1" fill="#d95f02"/><circle cx="506.2" cy="835.3" r="4.1" fill="#d95f02"/><circle cx="514.9" cy="839.7" r="4.1" fill="#d95f02"/><circle cx="526.9" cy="838.6" r="4.1" fill="#d95f02"/><circle cx="528.0" cy="841.9" r="4.1" fill="#d95f02"/><circle cx="543.3" cy="841.9" r="4.1" fill="#d95f02"/><circle cx="556.5" cy="828.7" r="4.1" fill="#d95f02"/><circle cx="556.5" cy="853.9" r="4.1" fill="#d95f02"/><circle cx="563.0" cy="848.4" r="4.1" fill="#d95f02"/><circle cx="493.0" cy="857.2" r="4.1" fill="#d95f02"/><circle cx="497.4" cy="857.2" r="4.1" fill="#d95f02"/><circle cx="507.3" cy="859.4" r="4.1" fill="#d95f02"/><circle cx="512.7" cy="859.4" r="4.1" fill="#d95f02"/><circle cx="517.1" cy="851.7" r="4.1" fill="#d95f02"/><circle cx="521.5" cy="848.4" r="4.1" fill="#d95f02"/><circle cx="523.7" cy="858.3" r="4.1" fill="#d95f02"/><circle cx="525.8" cy="861.5" r="4.1" fill="#d95f02"/><circle cx="520.4" cy="868.1" r="4.1" fill="#d95f02"/><circle cx="536.8" cy="867.0" r="4.1" fill="#d95f02"/><circle cx="543.3" cy="862.6" r="4.1" fill="#d95f02"/><circle cx="543.3" cy="867.0" r="4.1" fill="#d95f02"/><circle cx="545.5" cy="879.0" r="4.1" fill="#d95f02"/><circle cx="484.3" cy="852.8" r="4.1" fill="#d95f02"/><circle cx="493.0" cy="845.1" r="4.1" fill="#d95f02"/><circle cx="499.6" cy="846.2" r="4.1" fill="#d95f02"/><circle cx="473.4" cy="848.4" r="4.1" fill="#d95f02"/><circle cx="477.7" cy="833.1" r="4.1" fill="#d95f02"/><circle cx="488.7" cy="830.9" r="4.1" fill="#d95f02"/><circle cx="459.7" cy="842.1" r="4.1" fill="#d95f02"/><circle cx="473.5" cy="823.5" r="4.1" fill="#d95f02"/><circle cx="467.0" cy="834.1" r="4.1" fill="#d95f02"/><circle cx="487.8" cy="832.6" r="4.1" fill="#d95f02"/><circle cx="449.7" cy="830.1" r="4.1" fill="#d95f02"/><circle cx="469.5" cy="837.5" r="4.1" fill="#d95f02"/><circle cx="488.5" cy="847.3" r="4.1" fill="#d95f02"/><circle cx="484.1" cy="841.0" r="4.1" fill="#d95f02"/><circle cx="477.0" cy="825.5" r="4.1" fill="#d95f02"/><circle cx="472.4" cy="826.3" r="4.1" fill="#d95f02"/><circle cx="456.6" cy="832.3" r="4.1" fill="#d95f02"/><circle cx="472.7" cy="847.2" r="4.1" fill="#d95f02"/><circle cx="490.5" cy="845.7" r="4.1" fill="#d95f02"/><circle cx="470.4" cy="842.5" r="4.1" fill="#d95f02"/><circle cx="462.8" cy="846.0" r="4.1" fill="#d95f02"/><circle cx="468.3" cy="822.9" r="4.1" fill="#d95f02"/><circle cx="456.7" cy="843.1" r="4.1" fill="#d95f02"/><circle cx="483.4" cy="835.0" r="4.1" fill="#d95f02"/><circle cx="465.1" cy="845.6" r="4.1" fill="#d95f02"/><circle cx="453.8" cy="831.5" r="4.1" fill="#d95f02"/><circle cx="478.9" cy="827.5" r="4.1" fill="#d95f02"/><circle cx="458.7" cy="828.5" r="4.1" fill="#d95f02"/><circle cx="481.6" cy="829.0" r="4.1" fill="#d95f02"/><circle cx="448.9" cy="834.3" r="4.1" fill="#d95f02"/><circle cx="475.2" cy="836.7" r="4.1" fill="#d95f02"/><circle cx="483.6" cy="832.5" r="4.1" fill="#d95f02"/><circle cx="466.4" cy="843.2" r="4.1" fill="#d95f02"/><circle cx="463.2" cy="843.2" r="4.1" fill="#d95f02"/><circle cx="477.7" cy="850.9" r="4.1" fill="#d95f02"/><circle cx="445.6" cy="833.3" r="4.1" fill="#d95f02"/><circle cx="477.2" cy="846.9" r="4.1" fill="#d95f02"/><circle cx="485.5" cy="827.7" r="4.1" fill="#d95f02"/><circle cx="481.5" cy="831.9" r="4.1" fill="#d95f02"/><circle cx="458.4" cy="845.0" r="4.1" fill="#d95f02"/><circle cx="471.6" cy="835.2" r="4.1" fill="#d95f02"/><circle cx="454.7" cy="835.0" r="4.1" fill="#d95f02"/><circle cx="469.2" cy="832.6" r="4.1" fill="#d95f02"/><circle cx="467.3" cy="829.7" r="4.1" fill="#d95f02"/><circle cx="444.4" cy="838.4" r="4.1" fill="#d95f02"/><circle cx="467.9" cy="826.4" r="4.1" fill="#d95f02"/><circle cx="451.9" cy="842.8" r="4.1" fill="#d95f02"/><circle cx="474.6" cy="829.9" r="4.1" fill="#d95f02"/><circle cx="460.5" cy="837.2" r="4.1" fill="#d95f02"/><circle cx="462.1" cy="835.2" r="4.1" fill="#d95f02"/><circle cx="485.8" cy="846.9" r="4.1" fill="#d95f02"/><circle cx="476.8" cy="830.4" r="4.1" fill="#d95f02"/><circle cx="483.6" cy="820.8" r="4.1" fill="#d95f02"/><circle cx="462.6" cy="832.5" r="4.1" fill="#d95f02"/><circle cx="481.4" cy="843.8" r="4.1" fill="#d95f02"/><circle cx="486.3" cy="843.9" r="4.1" fill="#d95f02"/><circle cx="468.0" cy="845.5" r="4.1" fill="#d95f02"/><circle cx="469.6" cy="848.4" r="4.1" fill="#d95f02"/><circle cx="484.2" cy="823.1" r="4.1" fill="#d95f02"/><circle cx="461.1" cy="829.5" r="4.1" fill="#d95f02"/><circle cx="470.3" cy="829.5" r="4.1" fill="#d95f02"/><circle cx="483.0" cy="837.5" r="4.1" fill="#d95f02"/><circle cx="479.2" cy="823.0" r="4.1" fill="#d95f02"/><circle cx="475.8" cy="839.6" r="4.1" fill="#d95f02"/><circle cx="483.2" cy="848.9" r="4.1" fill="#d95f02"/><circle cx="467.8" cy="839.0" r="4.1" fill="#d95f02"/><circle cx="471.0" cy="823.9" r="4.1" fill="#d95f02"/><circle cx="489.3" cy="835.0" r="4.1" fill="#d95f02"/><circle cx="462.8" cy="825.0" r="4.1" fill="#d95f02"/><circle cx="465.2" cy="841.4" r="4.1" fill="#d95f02"/><circle cx="475.8" cy="843.9" r="4.1" fill="#d95f02"/><circle cx="483.5" cy="845.6" r="4.1" fill="#d95f02"/><circle cx="481.2" cy="847.6" r="4.1" fill="#d95f02"/><circle cx="465.9" cy="824.4" r="4.1" fill="#d95f02"/><circle cx="485.7" cy="829.9" r="4.1" fill="#d95f02"/><circle cx="440.2" cy="837.9" r="4.1" fill="#d95f02"/><circle cx="471.7" cy="841.5" r="4.1" fill="#d95f02"/><circle cx="470.3" cy="827.9" r="4.1" fill="#d95f02"/><circle cx="480.3" cy="836.5" r="4.1" fill="#d95f02"/><circle cx="483.1" cy="840.3" r="4.1" fill="#d95f02"/><circle cx="486.3" cy="830.4" r="4.1" fill="#d95f02"/><circle cx="479.8" cy="818.3" r="4.1" fill="#d95f02"/><circle cx="476.0" cy="838.4" r="4.1" fill="#d95f02"/><circle cx="486.4" cy="820.5" r="4.1" fill="#d95f02"/><circle cx="480.0" cy="843.4" r="4.1" fill="#d95f02"/><circle cx="446.2" cy="840.6" r="4.1" fill="#d95f02"/><circle cx="474.0" cy="837.9" r="4.1" fill="#d95f02"/><circle cx="486.8" cy="824.3" r="4.1" fill="#d95f02"/><circle cx="462.1" cy="840.3" r="4.1" fill="#d95f02"/><circle cx="466.9" cy="828.4" r="4.1" fill="#d95f02"/><circle cx="465.0" cy="843.2" r="4.1" fill="#d95f02"/><circle cx="469.5" cy="850.0" r="4.1" fill="#d95f02"/><circle cx="476.0" cy="825.2" r="4.1" fill="#d95f02"/><circle cx="488.3" cy="844.2" r="4.1" fill="#d95f02"/><circle cx="476.0" cy="844.2" r="4.1" fill="#d95f02"/><circle cx="473.4" cy="829.5" r="4.1" fill="#d95f02"/><circle cx="486.9" cy="853.6" r="4.1" fill="#d95f02"/><circle cx="452.8" cy="830.3" r="4.1" fill="#d95f02"/><circle cx="480.4" cy="841.1" r="4.1" fill="#d95f02"/><circle cx="462.3" cy="830.9" r="4.1" fill="#d95f02"/><circle cx="451.1" cy="841.4" r="4.1" fill="#d95f02"/><circle cx="452.5" cy="836.1" r="4.1" fill="#d95f02"/><circle cx="470.2" cy="833.0" r="4.1" fill="#d95f02"/><circle cx="485.4" cy="812.2" r="4.1" fill="#d95f02"/><circle cx="475.1" cy="833.7" r="4.1" fill="#d95f02"/><circle cx="475.7" cy="818.7" r="4.1" fill="#d95f02"/><circle cx="480.1" cy="845.7" r="4.1" fill="#d95f02"/><circle cx="472.6" cy="826.5" r="4.1" fill="#d95f02"/><circle cx="477.5" cy="851.8" r="4.1" fill="#d95f02"/><circle cx="490.1" cy="824.6" r="4.1" fill="#d95f02"/><circle cx="473.6" cy="847.7" r="4.1" fill="#d95f02"/><circle cx="472.2" cy="824.4" r="4.1" fill="#d95f02"/><circle cx="452.6" cy="833.1" r="4.1" fill="#d95f02"/><circle cx="472.6" cy="821.2" r="4.1" fill="#d95f02"/><circle cx="449.5" cy="831.9" r="4.1" fill="#d95f02"/><circle cx="492.0" cy="847.6" r="4.1" fill="#d95f02"/><circle cx="457.3" cy="827.2" r="4.1" fill="#d95f02"/><circle cx="482.3" cy="843.2" r="4.1" fill="#d95f02"/><circle cx="468.8" cy="836.9" r="4.1" fill="#d95f02"/><circle cx="477.9" cy="832.6" r="4.1" fill="#d95f02"/><circle cx="484.3" cy="848.8" r="4.1" fill="#d95f02"/><circle cx="481.5" cy="827.4" r="4.1" fill="#d95f02"/><circle cx="483.9" cy="814.7" r="4.1" fill="#d95f02"/><circle cx="460.0" cy="826.5" r="4.1" fill="#d95f02"/><circle cx="487.7" cy="818.6" r="4.1" fill="#d95f02"/><circle cx="488.5" cy="841.6" r="4.1" fill="#d95f02"/><circle cx="489.5" cy="851.5" r="4.1" fill="#d95f02"/><circle cx="489.7" cy="831.9" r="4.1" fill="#d95f02"/><circle cx="466.4" cy="822.1" r="4.1" fill="#d95f02"/><circle cx="454.5" cy="841.6" r="4.1" fill="#d95f02"/><circle cx="490.0" cy="821.8" r="4.1" fill="#d95f02"/><circle cx="484.9" cy="844.3" r="4.1" fill="#d95f02"/><circle cx="468.6" cy="819.5" r="4.1" fill="#d95f02"/><circle cx="469.8" cy="844.3" r="4.1" fill="#d95f02"/><circle cx="464.5" cy="840.0" r="4.1" fill="#d95f02"/><circle cx="444.2" cy="836.0" r="4.1" fill="#d95f02"/><circle cx="480.1" cy="839.0" r="4.1" fill="#d95f02"/><circle cx="484.9" cy="853.4" r="4.1" fill="#d95f02"/><circle cx="493.8" cy="845.1" r="4.1" fill="#d95f02"/><circle cx="471.1" cy="831.0" r="4.1" fill="#d95f02"/><circle cx="463.4" cy="822.9" r="4.1" fill="#d95f02"/><circle cx="487.8" cy="834.7" r="4.1" fill="#d95f02"/><circle cx="477.8" cy="823.7" r="4.1" fill="#d95f02"/><circle cx="484.3" cy="822.8" r="4.1" fill="#d95f02"/><circle cx="483.5" cy="846.4" r="4.1" fill="#d95f02"/><circle cx="469.7" cy="822.1" r="4.1" fill="#d95f02"/><circle cx="458.9" cy="832.2" r="4.1" fill="#d95f02"/><circle cx="482.1" cy="817.5" r="4.1" fill="#d95f02"/><circle cx="455.5" cy="832.0" r="4.1" fill="#d95f02"/><circle cx="491.1" cy="837.3" r="4.1" fill="#d95f02"/><circle cx="462.1" cy="848.0" r="4.1" fill="#d95f02"/><circle cx="479.2" cy="850.5" r="4.1" fill="#d95f02"/><circle cx="455.5" cy="828.5" r="4.1" fill="#d95f02"/><circle cx="465.6" cy="834.9" r="4.1" fill="#d95f02"/><circle cx="491.9" cy="840.7" r="4.1" fill="#d95f02"/><circle cx="482.4" cy="821.5" r="4.1" fill="#d95f02"/><circle cx="494.1" cy="813.5" r="4.1" fill="#d95f02"/><circle cx="501.9" cy="810.9" r="4.1" fill="#d95f02"/><circle cx="507.1" cy="816.1" r="4.1" fill="#d95f02"/><circle cx="511.0" cy="821.3" r="4.1" fill="#d95f02"/><circle cx="513.6" cy="812.2" r="4.1" fill="#d95f02"/><circle cx="495.4" cy="827.9" r="4.1" fill="#d95f02"/><circle cx="507.1" cy="835.7" r="4.1" fill="#d95f02"/><circle cx="498.0" cy="840.9" r="4.1" fill="#d95f02"/><circle cx="503.2" cy="844.8" r="4.1" fill="#d95f02"/><circle cx="515.0" cy="839.6" r="4.1" fill="#d95f02"/><circle cx="520.2" cy="831.8" r="4.1" fill="#d95f02"/><circle cx="526.7" cy="837.0" r="4.1" fill="#d95f02"/><circle cx="528.7" cy="840.3" r="4.1" fill="#d95f02"/><circle cx="512.3" cy="850.1" r="4.1" fill="#d95f02"/><circle cx="518.9" cy="848.8" r="4.1" fill="#d95f02"/><circle cx="525.4" cy="851.4" r="4.1" fill="#d95f02"/><circle cx="507.1" cy="859.2" r="4.1" fill="#d95f02"/><circle cx="515.0" cy="857.9" r="4.1" fill="#d95f02"/><circle cx="521.5" cy="859.2" r="4.1" fill="#d95f02"/><circle cx="525.4" cy="860.5" r="4.1" fill="#d95f02"/><circle cx="518.9" cy="868.3" r="4.1" fill="#d95f02"/><circle cx="495.4" cy="856.6" r="4.1" fill="#d95f02"/><circle cx="499.3" cy="856.6" r="4.1" fill="#d95f02"/><circle cx="483.6" cy="852.7" r="4.1" fill="#d95f02"/><circle cx="491.5" cy="837.0" r="4.1" fill="#d95f02"/><circle cx="488.8" cy="844.8" r="4.1" fill="#d95f02"/><circle cx="615.5" cy="724.8" r="4.1" fill="#e7298a"/><circle cx="612.2" cy="728.1" r="4.1" fill="#e7298a"/><circle cx="608.9" cy="731.4" r="4.1" fill="#e7298a"/><circle cx="606.8" cy="734.7" r="4.1" fill="#e7298a"/><circle cx="602.4" cy="736.9" r="4.1" fill="#e7298a"/><circle cx="598.0" cy="739.1" r="4.1" fill="#e7298a"/><circle cx="594.7" cy="742.3" r="4.1" fill="#e7298a"/><circle cx="590.4" cy="744.5" r="4.1" fill="#e7298a"/><circle cx="587.1" cy="746.7" r="4.1" fill="#e7298a"/><circle cx="582.7" cy="747.8" r="4.1" fill="#e7298a"/><circle cx="579.4" cy="751.1" r="4.1" fill="#e7298a"/><circle cx="577.2" cy="754.4" r="4.1" fill="#e7298a"/><circle cx="614.4" cy="735.8" r="4.1" fill="#e7298a"/><circle cx="616.6" cy="740.1" r="4.1" fill="#e7298a"/><circle cx="617.7" cy="745.6" r="4.1" fill="#e7298a"/><circle cx="613.3" cy="750.0" r="4.1" fill="#e7298a"/><circle cx="608.9" cy="747.8" r="4.1" fill="#e7298a"/><circle cx="604.6" cy="745.6" r="4.1" fill="#e7298a"/><circle cx="606.8" cy="741.2" r="4.1" fill="#e7298a"/><circle cx="611.1" cy="739.1" r="4.1" fill="#e7298a"/><circle cx="615.5" cy="732.5" r="4.1" fill="#e7298a"/><circle cx="595.8" cy="757.6" r="4.1" fill="#e7298a"/><circle cx="574.0" cy="763.1" r="4.1" fill="#e7298a"/><circle cx="579.4" cy="765.3" r="4.1" fill="#e7298a"/><circle cx="582.7" cy="769.7" r="4.1" fill="#e7298a"/><circle cx="604.6" cy="765.3" r="4.1" fill="#e7298a"/><circle cx="615.5" cy="760.9" r="4.1" fill="#e7298a"/><circle cx="613.3" cy="767.5" r="4.1" fill="#e7298a"/><circle cx="611.1" cy="770.8" r="4.1" fill="#e7298a"/><circle cx="615.5" cy="773.6" r="4.1" fill="#e7298a"/><circle cx="549.5" cy="776.9" r="4.1" fill="#e7298a"/><circle cx="556.5" cy="784.5" r="4.1" fill="#e7298a"/><circle cx="563.5" cy="788.9" r="4.1" fill="#e7298a"/><circle cx="565.2" cy="793.7" r="4.1" fill="#e7298a"/><circle cx="577.2" cy="785.4" r="4.1" fill="#e7298a"/><circle cx="588.8" cy="783.9" r="4.1" fill="#e7298a"/><circle cx="580.5" cy="790.4" r="4.1" fill="#e7298a"/><circle cx="582.7" cy="793.7" r="4.1" fill="#e7298a"/><circle cx="594.7" cy="794.8" r="4.1" fill="#e7298a"/><circle cx="599.1" cy="799.2" r="4.1" fill="#e7298a"/><circle cx="576.1" cy="800.3" r="4.1" fill="#e7298a"/><circle cx="591.0" cy="804.7" r="4.1" fill="#e7298a"/><circle cx="619.9" cy="795.9" r="4.1" fill="#e7298a"/><circle cx="621.6" cy="804.2" r="4.1" fill="#e7298a"/><circle cx="604.6" cy="748.9" r="4.1" fill="#e7298a"/><circle cx="607.8" cy="751.1" r="4.1" fill="#e7298a"/><circle cx="615.6" cy="736.5" r="4.1" fill="#e7298a"/><circle cx="619.5" cy="734.1" r="4.1" fill="#e7298a"/><circle cx="619.1" cy="726.5" r="4.1" fill="#e7298a"/><circle cx="605.9" cy="732.3" r="4.1" fill="#e7298a"/><circle cx="606.7" cy="730.0" r="4.1" fill="#e7298a"/><circle cx="616.5" cy="734.4" r="4.1" fill="#e7298a"/><circle cx="618.0" cy="749.4" r="4.1" fill="#e7298a"/><circle cx="612.9" cy="742.3" r="4.1" fill="#e7298a"/><circle cx="618.4" cy="738.4" r="4.1" fill="#e7298a"/><circle cx="605.1" cy="737.7" r="4.1" fill="#e7298a"/><circle cx="612.1" cy="727.1" r="4.1" fill="#e7298a"/><circle cx="615.1" cy="746.7" r="4.1" fill="#e7298a"/><circle cx="614.4" cy="734.8" r="4.1" fill="#e7298a"/><circle cx="604.9" cy="740.1" r="4.1" fill="#e7298a"/><circle cx="608.1" cy="738.7" r="4.1" fill="#e7298a"/><circle cx="610.3" cy="738.5" r="4.1" fill="#e7298a"/><circle cx="617.9" cy="747.0" r="4.1" fill="#e7298a"/><circle cx="610.7" cy="751.0" r="4.1" fill="#e7298a"/><circle cx="617.2" cy="728.9" r="4.1" fill="#e7298a"/><circle cx="603.9" cy="742.1" r="4.1" fill="#e7298a"/><circle cx="605.2" cy="744.0" r="4.1" fill="#e7298a"/><circle cx="615.8" cy="740.4" r="4.1" fill="#e7298a"/><circle cx="616.8" cy="726.3" r="4.1" fill="#e7298a"/><circle cx="614.9" cy="752.4" r="4.1" fill="#e7298a"/><circle cx="577.0" cy="753.1" r="4.1" fill="#e7298a"/><circle cx="581.3" cy="749.3" r="4.1" fill="#e7298a"/><circle cx="585.7" cy="746.6" r="4.1" fill="#e7298a"/><circle cx="591.1" cy="745.5" r="4.1" fill="#e7298a"/><circle cx="595.5" cy="742.7" r="4.1" fill="#e7298a"/><circle cx="599.8" cy="739.5" r="4.1" fill="#e7298a"/><circle cx="605.3" cy="736.8" r="4.1" fill="#e7298a"/><circle cx="610.7" cy="728.1" r="4.1" fill="#e7298a"/><circle cx="584.9" cy="811.2" r="4.1" fill="#66a61e"/><circle cx="582.7" cy="815.6" r="4.1" fill="#66a61e"/><circle cx="574.0" cy="818.9" r="4.1" fill="#66a61e"/><circle cx="570.7" cy="822.2" r="4.1" fill="#66a61e"/><circle cx="578.3" cy="823.2" r="4.1" fill="#66a61e"/><circle cx="571.8" cy="822.2" r="4.1" fill="#66a61e"/><circle cx="578.3" cy="824.4" r="4.1" fill="#66a61e"/><circle cx="584.9" cy="825.5" r="4.1" fill="#66a61e"/><circle cx="582.7" cy="833.1" r="4.1" fill="#66a61e"/><circle cx="584.9" cy="835.3" r="4.1" fill="#66a61e"/><circle cx="577.2" cy="839.7" r="4.1" fill="#66a61e"/><circle cx="586.0" cy="843.0" r="4.1" fill="#66a61e"/><circle cx="597.6" cy="850.6" r="4.1" fill="#66a61e"/><circle cx="576.1" cy="820.0" r="4.1" fill="#66a61e"/><circle cx="587.1" cy="822.2" r="4.1" fill="#66a61e"/><circle cx="578.9" cy="826.8" r="4.1" fill="#66a61e"/><circle cx="585.1" cy="831.6" r="4.1" fill="#66a61e"/><circle cx="585.8" cy="823.4" r="4.1" fill="#66a61e"/><circle cx="574.5" cy="819.3" r="4.1" fill="#66a61e"/><circle cx="578.6" cy="820.2" r="4.1" fill="#66a61e"/><circle cx="583.8" cy="829.3" r="4.1" fill="#66a61e"/><circle cx="570.2" cy="818.8" r="4.1" fill="#66a61e"/><circle cx="586.9" cy="826.8" r="4.1" fill="#66a61e"/></g>
</svg></body></html>
